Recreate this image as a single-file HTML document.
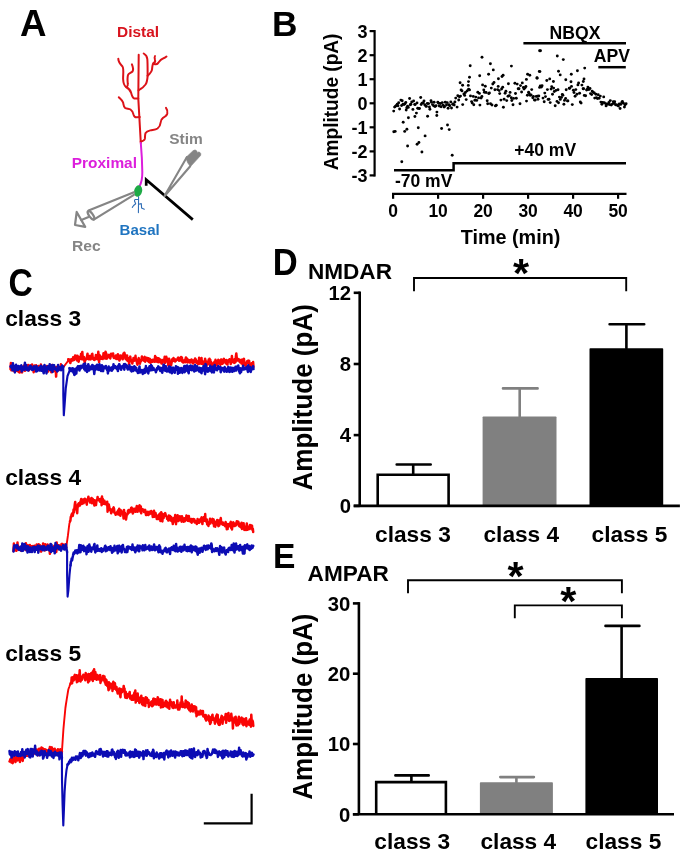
<!DOCTYPE html>
<html><head><meta charset="utf-8"><title>Figure</title>
<style>
html,body{margin:0;padding:0;background:#fff;}
svg{display:block;will-change:transform;}
text{font-family:"Liberation Sans",sans-serif;font-weight:bold;}
</style></head><body>
<svg width="685" height="860" viewBox="0 0 685 860">
<rect width="685" height="860" fill="#fff"/>
<text transform="translate(20.0 35.8)" font-size="36.7" text-anchor="start" fill="#000" font-family="Liberation Sans, sans-serif" font-weight="bold">A</text>
<text transform="translate(117.0 36.9) scale(1.05 1)" font-size="14.7" text-anchor="start" fill="#d8141e" font-family="Liberation Sans, sans-serif" font-weight="bold">Distal</text>
<text transform="translate(71.8 168.0) scale(1.05 1)" font-size="14.7" text-anchor="start" fill="#dc1edc" font-family="Liberation Sans, sans-serif" font-weight="bold">Proximal</text>
<text transform="translate(169.2 144.0) scale(1.04 1)" font-size="14.9" text-anchor="start" fill="#858585" font-family="Liberation Sans, sans-serif" font-weight="bold">Stim</text>
<text transform="translate(72.0 250.7) scale(1.03 1)" font-size="15.2" text-anchor="start" fill="#858585" font-family="Liberation Sans, sans-serif" font-weight="bold">Rec</text>
<text transform="translate(119.6 235.0) scale(1.01 1)" font-size="14.9" text-anchor="start" fill="#1f74c0" font-family="Liberation Sans, sans-serif" font-weight="bold">Basal</text>
<g fill="none" stroke="#dc1218" stroke-width="2.0" stroke-linecap="round" stroke-linejoin="round"><path d="M138.7,54.8 L138.3,98.6 L140.8,143"/><path d="M118.3,58.8 C118.3,62 120,64 122.5,66.5 C124,68.5 123,75 123.1,79 C123.3,83 124,85.5 126,87 C129,88.5 130.5,90.5 131.2,93 C132,96 132.5,98 134.5,98.6 L138.3,98.6"/><path d="M131.9,64.4 C132.8,66.5 133.6,69.5 132.5,71.5 C131,73 128.6,73.2 128,75 C127.3,77.5 127.5,81 127.8,84 C128,85.5 127.5,86.5 126.5,87"/><path d="M143.7,53.5 C145.5,54.5 147,56 147.3,59 C147.7,63 147.6,70 147.6,76.3 C147.3,80 146.5,83 145.5,84.5 C144,86.5 142.5,88 140.5,89 L138.5,90.3"/><path d="M147.5,75.8 C149.5,74 151.8,72 152,69.5 C152.3,66.5 152.5,64 153.5,63 C155,62.5 155.3,61 155,60 C154.6,58.5 154.2,57 155,56 M153.5,63.5 C155.5,64.5 157.5,64.5 158.5,62.5 C159.5,61 161,59 163,58.5 C164.5,58 165.8,57.2 166.5,56.6"/><path d="M118.8,97.3 C120.5,99 122.5,100.5 123.1,102.6 C123.6,104.5 123.5,106.5 125,107.8 C126.5,108.8 129,108.6 130.5,109.5 C132.5,110.8 133.3,113 133.7,115 C134.2,117 135.5,117.5 137,117.3 L139.8,117.1"/><path d="M166,107.9 C167.2,109.5 167.6,112 167.3,113.5 C166.8,115.5 165,116.8 163,117.8 C161.2,119 160.6,121 160.5,123 C160.4,125 159.5,127 157.5,128.5 C155.5,129.8 152.5,129.8 150.3,130.4 C148,131 146.5,131.5 145.6,133 C144.8,134.5 145.2,137 144.8,139 C144.2,140.5 142.5,141.3 140.7,141.6"/></g>
<path d="M140.8,143 C141.6,152 142.2,162 142.3,172 C142.4,178 141.5,182.5 139.6,186" fill="none" stroke="#dc1edc" stroke-width="2.0" stroke-linecap="round"/>
<path d="M138.6,196.5 L138.4,212.6 M138.4,199.3 L135.2,199.5 Q134.2,200 134.6,201.3 L135.7,203.8 L133.6,205.5 L132.3,207.4 M138.7,204.3 L141.3,203.6 L141.6,208.1 L144.3,209.3" fill="none" stroke="#2f6db5" stroke-width="1.1" stroke-linecap="round" stroke-linejoin="round"/>
<ellipse cx="138.1" cy="191" rx="4.0" ry="5.8" transform="rotate(12 138.1 191)" fill="#1eaa46"/>
<path d="M146.2,185.8 L146.2,179.7 L192.8,219.6" fill="none" stroke="#000" stroke-width="2.7" stroke-linejoin="miter"/>
<g fill="none" stroke="#858585" stroke-width="2.1" stroke-linecap="round"><path d="M164.6,195.8 L186.8,157.2 M164.9,195.8 L190.2,166.3"/></g>
<path d="M185.9,157.6 L192.9,150.9 Q195.3,148.9 196.9,151.2 L197.3,152.9 Q198.4,151.6 199.9,152.4 Q201.4,153.6 200.5,155.6 L190.4,166.5 L187.6,162.6 Z" fill="#858585" stroke="#858585" stroke-width="0.8" stroke-linejoin="round"/>
<g fill="none" stroke="#858585" stroke-width="2.2" stroke-linecap="round" stroke-linejoin="round"><path d="M88.6,210.4 L133.9,192.3 M93.8,219.6 L133.9,194.9"/><ellipse cx="91" cy="215.2" rx="1.9" ry="5.0" transform="rotate(-36 91 215.2)"/><path d="M88.6,217.0 L81.3,220.0"/><path d="M76.7,212.0 L75.0,225.0 L85.2,226.9 Z"/></g>
<text transform="translate(272.1 35.5) scale(0.99 1)" font-size="35.6" text-anchor="start" fill="#000" font-family="Liberation Sans, sans-serif" font-weight="bold">B</text>
<g stroke="#000" stroke-width="2.2" fill="none">
<path d="M374.6,30.04999999999999 L374.6,176.54999999999998"/>
<path d="M369.6,175.4 L374.6,175.4"/>
<path d="M369.6,151.4 L374.6,151.4"/>
<path d="M369.6,127.3 L374.6,127.3"/>
<path d="M369.6,103.3 L374.6,103.3"/>
<path d="M369.6,79.2 L374.6,79.2"/>
<path d="M369.6,55.2 L374.6,55.2"/>
<path d="M369.6,31.1 L374.6,31.1"/>
<path d="M392.0,193.9 L626.5,193.9"/>
<path d="M393.1,193.9 L393.1,198.8"/>
<path d="M438.1,193.9 L438.1,198.8"/>
<path d="M483.1,193.9 L483.1,198.8"/>
<path d="M528.1,193.9 L528.1,198.8"/>
<path d="M573.1,193.9 L573.1,198.8"/>
<path d="M618.1,193.9 L618.1,198.8"/>
</g>
<text transform="translate(367.5 181.8) scale(0.95 1)" font-size="19.0" text-anchor="end" fill="#000" font-family="Liberation Sans, sans-serif" font-weight="bold">-3</text>
<text transform="translate(367.5 157.8) scale(0.95 1)" font-size="19.0" text-anchor="end" fill="#000" font-family="Liberation Sans, sans-serif" font-weight="bold">-2</text>
<text transform="translate(367.5 133.8) scale(0.95 1)" font-size="19.0" text-anchor="end" fill="#000" font-family="Liberation Sans, sans-serif" font-weight="bold">-1</text>
<text transform="translate(367.5 109.7) scale(0.95 1)" font-size="19.0" text-anchor="end" fill="#000" font-family="Liberation Sans, sans-serif" font-weight="bold">0</text>
<text transform="translate(367.5 85.7) scale(0.95 1)" font-size="19.0" text-anchor="end" fill="#000" font-family="Liberation Sans, sans-serif" font-weight="bold">1</text>
<text transform="translate(367.5 61.6) scale(0.95 1)" font-size="19.0" text-anchor="end" fill="#000" font-family="Liberation Sans, sans-serif" font-weight="bold">2</text>
<text transform="translate(367.5 37.5) scale(0.95 1)" font-size="19.0" text-anchor="end" fill="#000" font-family="Liberation Sans, sans-serif" font-weight="bold">3</text>
<text transform="translate(393.1 217.3) scale(0.95 1)" font-size="18.4" text-anchor="middle" fill="#000" font-family="Liberation Sans, sans-serif" font-weight="bold">0</text>
<text transform="translate(438.1 217.3) scale(0.95 1)" font-size="18.4" text-anchor="middle" fill="#000" font-family="Liberation Sans, sans-serif" font-weight="bold">10</text>
<text transform="translate(483.1 217.3) scale(0.95 1)" font-size="18.4" text-anchor="middle" fill="#000" font-family="Liberation Sans, sans-serif" font-weight="bold">20</text>
<text transform="translate(528.1 217.3) scale(0.95 1)" font-size="18.4" text-anchor="middle" fill="#000" font-family="Liberation Sans, sans-serif" font-weight="bold">30</text>
<text transform="translate(573.1 217.3) scale(0.95 1)" font-size="18.4" text-anchor="middle" fill="#000" font-family="Liberation Sans, sans-serif" font-weight="bold">40</text>
<text transform="translate(618.1 217.3) scale(0.95 1)" font-size="18.4" text-anchor="middle" fill="#000" font-family="Liberation Sans, sans-serif" font-weight="bold">50</text>
<text transform="translate(510.5 243.6)" font-size="19.8" text-anchor="middle" fill="#000" font-family="Liberation Sans, sans-serif" font-weight="bold">Time (min)</text>
<text transform="translate(338.0 101.9) scale(1.08 1) rotate(-90)" font-size="19.1" text-anchor="middle" fill="#000" font-family="Liberation Sans, sans-serif" font-weight="bold">Amplitude (pA)</text>
<g stroke="#000" stroke-width="2.5" fill="none">
<path d="M523.4,43.3 L626,43.3"/>
<path d="M598.3,67.2 L625.8,67.2"/>
<path d="M394,170.3 L453.6,170.3 L453.6,163.3 L626,163.3"/>
</g>
<text transform="translate(575 38.9)" font-size="17.6" text-anchor="middle" fill="#000" font-family="Liberation Sans, sans-serif" font-weight="bold">NBQX</text>
<text transform="translate(611.8 62.1)" font-size="17.6" text-anchor="middle" fill="#000" font-family="Liberation Sans, sans-serif" font-weight="bold">APV</text>
<text transform="translate(545.2 156)" font-size="17.5" text-anchor="middle" fill="#000" font-family="Liberation Sans, sans-serif" font-weight="bold">+40 mV</text>
<text transform="translate(423.6 187.3)" font-size="17.5" text-anchor="middle" fill="#000" font-family="Liberation Sans, sans-serif" font-weight="bold">-70 mV</text>
<g fill="#000">
<circle cx="393.7" cy="111.1" r="1.45"/>
<circle cx="394.6" cy="107.1" r="1.45"/>
<circle cx="395.5" cy="106.2" r="1.45"/>
<circle cx="396.4" cy="105.5" r="1.45"/>
<circle cx="397.3" cy="104.1" r="1.45"/>
<circle cx="398.0" cy="105.8" r="1.45"/>
<circle cx="398.7" cy="102.7" r="1.45"/>
<circle cx="399.6" cy="109.0" r="1.45"/>
<circle cx="400.9" cy="100.1" r="1.45"/>
<circle cx="401.6" cy="105.5" r="1.45"/>
<circle cx="402.2" cy="100.7" r="1.45"/>
<circle cx="403.0" cy="104.1" r="1.45"/>
<circle cx="404.0" cy="104.5" r="1.45"/>
<circle cx="405.0" cy="103.7" r="1.45"/>
<circle cx="405.8" cy="102.4" r="1.45"/>
<circle cx="406.8" cy="107.7" r="1.45"/>
<circle cx="407.6" cy="106.3" r="1.45"/>
<circle cx="408.3" cy="107.4" r="1.45"/>
<circle cx="409.6" cy="98.5" r="1.45"/>
<circle cx="410.3" cy="104.7" r="1.45"/>
<circle cx="410.9" cy="104.2" r="1.45"/>
<circle cx="411.7" cy="101.9" r="1.45"/>
<circle cx="412.9" cy="109.4" r="1.45"/>
<circle cx="413.6" cy="101.0" r="1.45"/>
<circle cx="414.7" cy="104.4" r="1.45"/>
<circle cx="415.2" cy="104.6" r="1.45"/>
<circle cx="416.4" cy="113.1" r="1.45"/>
<circle cx="417.0" cy="102.9" r="1.45"/>
<circle cx="417.7" cy="108.2" r="1.45"/>
<circle cx="418.7" cy="108.4" r="1.45"/>
<circle cx="419.5" cy="108.5" r="1.45"/>
<circle cx="420.7" cy="97.5" r="1.45"/>
<circle cx="421.2" cy="104.5" r="1.45"/>
<circle cx="422.0" cy="103.1" r="1.45"/>
<circle cx="423.3" cy="102.7" r="1.45"/>
<circle cx="424.0" cy="100.9" r="1.45"/>
<circle cx="424.7" cy="104.7" r="1.45"/>
<circle cx="425.8" cy="106.1" r="1.45"/>
<circle cx="426.4" cy="106.4" r="1.45"/>
<circle cx="427.3" cy="103.5" r="1.45"/>
<circle cx="428.6" cy="103.6" r="1.45"/>
<circle cx="429.4" cy="107.0" r="1.45"/>
<circle cx="429.9" cy="109.3" r="1.45"/>
<circle cx="431.0" cy="100.7" r="1.45"/>
<circle cx="431.5" cy="102.3" r="1.45"/>
<circle cx="432.5" cy="104.6" r="1.45"/>
<circle cx="433.6" cy="105.8" r="1.45"/>
<circle cx="434.1" cy="102.2" r="1.45"/>
<circle cx="435.0" cy="106.5" r="1.45"/>
<circle cx="436.1" cy="105.7" r="1.45"/>
<circle cx="436.9" cy="112.1" r="1.45"/>
<circle cx="437.8" cy="102.2" r="1.45"/>
<circle cx="438.7" cy="103.2" r="1.45"/>
<circle cx="439.3" cy="106.0" r="1.45"/>
<circle cx="440.6" cy="103.5" r="1.45"/>
<circle cx="441.1" cy="106.7" r="1.45"/>
<circle cx="442.3" cy="102.6" r="1.45"/>
<circle cx="443.2" cy="105.3" r="1.45"/>
<circle cx="444.1" cy="107.1" r="1.45"/>
<circle cx="444.5" cy="106.5" r="1.45"/>
<circle cx="445.3" cy="102.3" r="1.45"/>
<circle cx="446.5" cy="105.0" r="1.45"/>
<circle cx="447.2" cy="102.6" r="1.45"/>
<circle cx="448.1" cy="108.3" r="1.45"/>
<circle cx="448.9" cy="104.7" r="1.45"/>
<circle cx="449.7" cy="105.7" r="1.45"/>
<circle cx="450.8" cy="101.9" r="1.45"/>
<circle cx="451.5" cy="108.0" r="1.45"/>
<circle cx="452.7" cy="104.3" r="1.45"/>
<circle cx="453.2" cy="104.0" r="1.45"/>
<circle cx="454.2" cy="105.0" r="1.45"/>
<circle cx="454.9" cy="102.0" r="1.45"/>
<circle cx="455.7" cy="98.1" r="1.45"/>
<circle cx="457.1" cy="107.1" r="1.45"/>
<circle cx="457.8" cy="95.7" r="1.45"/>
<circle cx="458.7" cy="100.0" r="1.45"/>
<circle cx="459.4" cy="96.8" r="1.45"/>
<circle cx="460.5" cy="96.1" r="1.45"/>
<circle cx="461.1" cy="89.9" r="1.45"/>
<circle cx="462.0" cy="90.9" r="1.45"/>
<circle cx="462.7" cy="104.6" r="1.45"/>
<circle cx="463.9" cy="94.0" r="1.45"/>
<circle cx="464.7" cy="95.4" r="1.45"/>
<circle cx="465.4" cy="92.5" r="1.45"/>
<circle cx="466.2" cy="99.6" r="1.45"/>
<circle cx="467.1" cy="90.9" r="1.45"/>
<circle cx="468.3" cy="85.4" r="1.45"/>
<circle cx="468.6" cy="89.2" r="1.45"/>
<circle cx="469.5" cy="89.9" r="1.45"/>
<circle cx="470.5" cy="95.9" r="1.45"/>
<circle cx="471.6" cy="101.6" r="1.45"/>
<circle cx="472.2" cy="103.0" r="1.45"/>
<circle cx="473.3" cy="96.4" r="1.45"/>
<circle cx="473.8" cy="104.7" r="1.45"/>
<circle cx="474.9" cy="100.2" r="1.45"/>
<circle cx="475.8" cy="97.1" r="1.45"/>
<circle cx="476.7" cy="100.4" r="1.45"/>
<circle cx="477.8" cy="92.3" r="1.45"/>
<circle cx="478.6" cy="97.9" r="1.45"/>
<circle cx="479.4" cy="93.4" r="1.45"/>
<circle cx="479.9" cy="105.1" r="1.45"/>
<circle cx="481.1" cy="98.0" r="1.45"/>
<circle cx="481.9" cy="96.5" r="1.45"/>
<circle cx="482.6" cy="84.9" r="1.45"/>
<circle cx="483.8" cy="89.9" r="1.45"/>
<circle cx="484.4" cy="92.2" r="1.45"/>
<circle cx="485.3" cy="86.3" r="1.45"/>
<circle cx="486.1" cy="92.5" r="1.45"/>
<circle cx="487.2" cy="100.8" r="1.45"/>
<circle cx="487.7" cy="103.8" r="1.45"/>
<circle cx="488.7" cy="93.6" r="1.45"/>
<circle cx="489.4" cy="93.0" r="1.45"/>
<circle cx="490.5" cy="103.7" r="1.45"/>
<circle cx="491.3" cy="88.1" r="1.45"/>
<circle cx="492.0" cy="105.0" r="1.45"/>
<circle cx="492.8" cy="84.0" r="1.45"/>
<circle cx="494.0" cy="82.5" r="1.45"/>
<circle cx="494.9" cy="89.7" r="1.45"/>
<circle cx="495.4" cy="105.9" r="1.45"/>
<circle cx="496.3" cy="105.3" r="1.45"/>
<circle cx="497.6" cy="89.6" r="1.45"/>
<circle cx="498.2" cy="86.4" r="1.45"/>
<circle cx="499.2" cy="90.6" r="1.45"/>
<circle cx="499.7" cy="93.6" r="1.45"/>
<circle cx="500.9" cy="100.1" r="1.45"/>
<circle cx="501.6" cy="89.0" r="1.45"/>
<circle cx="502.7" cy="87.2" r="1.45"/>
<circle cx="503.4" cy="107.2" r="1.45"/>
<circle cx="504.1" cy="99.3" r="1.45"/>
<circle cx="505.1" cy="93.3" r="1.45"/>
<circle cx="505.9" cy="91.3" r="1.45"/>
<circle cx="506.7" cy="100.6" r="1.45"/>
<circle cx="508.0" cy="96.3" r="1.45"/>
<circle cx="508.4" cy="83.7" r="1.45"/>
<circle cx="509.3" cy="95.6" r="1.45"/>
<circle cx="510.1" cy="92.4" r="1.45"/>
<circle cx="511.3" cy="97.7" r="1.45"/>
<circle cx="511.8" cy="100.5" r="1.45"/>
<circle cx="513.0" cy="104.7" r="1.45"/>
<circle cx="513.6" cy="98.4" r="1.45"/>
<circle cx="514.9" cy="83.2" r="1.45"/>
<circle cx="515.5" cy="93.5" r="1.45"/>
<circle cx="516.3" cy="98.3" r="1.45"/>
<circle cx="517.2" cy="84.1" r="1.45"/>
<circle cx="518.2" cy="88.7" r="1.45"/>
<circle cx="519.0" cy="88.8" r="1.45"/>
<circle cx="520.0" cy="103.7" r="1.45"/>
<circle cx="520.5" cy="85.6" r="1.45"/>
<circle cx="521.6" cy="92.0" r="1.45"/>
<circle cx="522.3" cy="82.9" r="1.45"/>
<circle cx="523.4" cy="87.5" r="1.45"/>
<circle cx="524.0" cy="89.0" r="1.45"/>
<circle cx="525.1" cy="87.7" r="1.45"/>
<circle cx="525.9" cy="86.5" r="1.45"/>
<circle cx="526.5" cy="101.1" r="1.45"/>
<circle cx="527.4" cy="95.2" r="1.45"/>
<circle cx="528.6" cy="92.3" r="1.45"/>
<circle cx="529.2" cy="93.6" r="1.45"/>
<circle cx="530.1" cy="95.3" r="1.45"/>
<circle cx="531.1" cy="95.0" r="1.45"/>
<circle cx="531.7" cy="89.6" r="1.45"/>
<circle cx="532.8" cy="97.8" r="1.45"/>
<circle cx="533.4" cy="96.4" r="1.45"/>
<circle cx="534.4" cy="100.1" r="1.45"/>
<circle cx="535.3" cy="100.0" r="1.45"/>
<circle cx="536.2" cy="96.4" r="1.45"/>
<circle cx="537.3" cy="96.3" r="1.45"/>
<circle cx="538.0" cy="99.3" r="1.45"/>
<circle cx="538.8" cy="96.0" r="1.45"/>
<circle cx="539.6" cy="87.4" r="1.45"/>
<circle cx="540.3" cy="86.0" r="1.45"/>
<circle cx="541.4" cy="87.0" r="1.45"/>
<circle cx="542.1" cy="85.7" r="1.45"/>
<circle cx="543.0" cy="98.1" r="1.45"/>
<circle cx="544.2" cy="101.7" r="1.45"/>
<circle cx="544.8" cy="93.1" r="1.45"/>
<circle cx="545.5" cy="96.6" r="1.45"/>
<circle cx="546.8" cy="80.5" r="1.45"/>
<circle cx="547.4" cy="89.6" r="1.45"/>
<circle cx="548.1" cy="99.4" r="1.45"/>
<circle cx="549.0" cy="99.3" r="1.45"/>
<circle cx="550.2" cy="102.6" r="1.45"/>
<circle cx="551.1" cy="89.1" r="1.45"/>
<circle cx="551.7" cy="86.8" r="1.45"/>
<circle cx="552.5" cy="94.3" r="1.45"/>
<circle cx="553.6" cy="88.1" r="1.45"/>
<circle cx="554.3" cy="91.5" r="1.45"/>
<circle cx="555.2" cy="105.8" r="1.45"/>
<circle cx="556.0" cy="90.4" r="1.45"/>
<circle cx="557.0" cy="101.4" r="1.45"/>
<circle cx="558.0" cy="89.8" r="1.45"/>
<circle cx="558.5" cy="102.7" r="1.45"/>
<circle cx="559.4" cy="97.1" r="1.45"/>
<circle cx="560.3" cy="99.4" r="1.45"/>
<circle cx="561.5" cy="97.4" r="1.45"/>
<circle cx="562.3" cy="94.4" r="1.45"/>
<circle cx="562.9" cy="95.2" r="1.45"/>
<circle cx="563.9" cy="104.2" r="1.45"/>
<circle cx="564.5" cy="100.4" r="1.45"/>
<circle cx="565.6" cy="98.5" r="1.45"/>
<circle cx="566.2" cy="89.7" r="1.45"/>
<circle cx="567.5" cy="100.9" r="1.45"/>
<circle cx="567.9" cy="100.9" r="1.45"/>
<circle cx="569.3" cy="88.3" r="1.45"/>
<circle cx="569.7" cy="88.3" r="1.45"/>
<circle cx="571.0" cy="81.8" r="1.45"/>
<circle cx="571.5" cy="86.4" r="1.45"/>
<circle cx="572.3" cy="104.6" r="1.45"/>
<circle cx="573.4" cy="90.2" r="1.45"/>
<circle cx="574.0" cy="92.5" r="1.45"/>
<circle cx="575.1" cy="96.3" r="1.45"/>
<circle cx="575.8" cy="89.6" r="1.45"/>
<circle cx="576.9" cy="94.2" r="1.45"/>
<circle cx="577.9" cy="84.9" r="1.45"/>
<circle cx="578.6" cy="83.0" r="1.45"/>
<circle cx="579.6" cy="93.2" r="1.45"/>
<circle cx="580.3" cy="102.0" r="1.45"/>
<circle cx="581.1" cy="103.1" r="1.45"/>
<circle cx="581.9" cy="85.1" r="1.45"/>
<circle cx="583.1" cy="88.7" r="1.45"/>
<circle cx="583.6" cy="88.8" r="1.45"/>
<circle cx="584.3" cy="95.4" r="1.45"/>
<circle cx="585.6" cy="95.8" r="1.45"/>
<circle cx="586.6" cy="90.0" r="1.45"/>
<circle cx="587.4" cy="89.2" r="1.45"/>
<circle cx="587.9" cy="87.1" r="1.45"/>
<circle cx="588.9" cy="89.5" r="1.45"/>
<circle cx="590.0" cy="88.5" r="1.45"/>
<circle cx="590.5" cy="93.6" r="1.45"/>
<circle cx="591.7" cy="94.6" r="1.45"/>
<circle cx="592.1" cy="91.1" r="1.45"/>
<circle cx="593.1" cy="92.3" r="1.45"/>
<circle cx="594.3" cy="92.9" r="1.45"/>
<circle cx="594.7" cy="98.1" r="1.45"/>
<circle cx="595.9" cy="94.2" r="1.45"/>
<circle cx="596.4" cy="97.6" r="1.45"/>
<circle cx="597.4" cy="98.6" r="1.45"/>
<circle cx="598.2" cy="94.7" r="1.45"/>
<circle cx="599.1" cy="98.2" r="1.45"/>
<circle cx="600.3" cy="96.1" r="1.45"/>
<circle cx="600.9" cy="102.1" r="1.45"/>
<circle cx="601.9" cy="104.2" r="1.45"/>
<circle cx="602.6" cy="102.4" r="1.45"/>
<circle cx="603.7" cy="96.9" r="1.45"/>
<circle cx="604.3" cy="102.7" r="1.45"/>
<circle cx="605.6" cy="103.6" r="1.45"/>
<circle cx="606.1" cy="105.9" r="1.45"/>
<circle cx="606.8" cy="104.2" r="1.45"/>
<circle cx="607.9" cy="104.1" r="1.45"/>
<circle cx="608.9" cy="102.4" r="1.45"/>
<circle cx="609.4" cy="104.5" r="1.45"/>
<circle cx="610.3" cy="100.6" r="1.45"/>
<circle cx="611.2" cy="105.0" r="1.45"/>
<circle cx="612.4" cy="104.1" r="1.45"/>
<circle cx="613.3" cy="101.7" r="1.45"/>
<circle cx="614.1" cy="103.3" r="1.45"/>
<circle cx="614.7" cy="101.7" r="1.45"/>
<circle cx="615.5" cy="104.8" r="1.45"/>
<circle cx="616.5" cy="104.9" r="1.45"/>
<circle cx="617.5" cy="105.2" r="1.45"/>
<circle cx="618.4" cy="106.1" r="1.45"/>
<circle cx="619.3" cy="104.0" r="1.45"/>
<circle cx="620.1" cy="108.5" r="1.45"/>
<circle cx="620.7" cy="104.4" r="1.45"/>
<circle cx="621.8" cy="102.4" r="1.45"/>
<circle cx="622.4" cy="101.5" r="1.45"/>
<circle cx="623.4" cy="103.3" r="1.45"/>
<circle cx="624.4" cy="107.1" r="1.45"/>
<circle cx="625.0" cy="105.1" r="1.45"/>
<circle cx="626.1" cy="103.7" r="1.45"/>
<circle cx="393.8" cy="131.8" r="1.45"/>
<circle cx="395.2" cy="131.4" r="1.45"/>
<circle cx="403.2" cy="122.3" r="1.45"/>
<circle cx="404.7" cy="131.4" r="1.45"/>
<circle cx="406.9" cy="129.3" r="1.45"/>
<circle cx="408.4" cy="117.7" r="1.45"/>
<circle cx="407.6" cy="146.0" r="1.45"/>
<circle cx="401.8" cy="161.8" r="1.45"/>
<circle cx="414.9" cy="116.5" r="1.45"/>
<circle cx="418.3" cy="127.7" r="1.45"/>
<circle cx="417.1" cy="144.2" r="1.45"/>
<circle cx="418.9" cy="142.5" r="1.45"/>
<circle cx="421.9" cy="152.0" r="1.45"/>
<circle cx="425.1" cy="135.9" r="1.45"/>
<circle cx="427.6" cy="116.2" r="1.45"/>
<circle cx="436.8" cy="115.5" r="1.45"/>
<circle cx="441.6" cy="128.5" r="1.45"/>
<circle cx="447.5" cy="125.0" r="1.45"/>
<circle cx="449.2" cy="129.6" r="1.45"/>
<circle cx="452.2" cy="155.2" r="1.45"/>
<circle cx="406.2" cy="110.0" r="1.45"/>
<circle cx="482.0" cy="57.2" r="1.45"/>
<circle cx="470.2" cy="65.8" r="1.45"/>
<circle cx="490.4" cy="63.8" r="1.45"/>
<circle cx="493.3" cy="69.9" r="1.45"/>
<circle cx="511.4" cy="66.1" r="1.45"/>
<circle cx="479.7" cy="75.8" r="1.45"/>
<circle cx="488.6" cy="74.3" r="1.45"/>
<circle cx="469.5" cy="77.2" r="1.45"/>
<circle cx="468.5" cy="81.6" r="1.45"/>
<circle cx="503.1" cy="75.3" r="1.45"/>
<circle cx="502.0" cy="76.5" r="1.45"/>
<circle cx="498.4" cy="78.7" r="1.45"/>
<circle cx="527.6" cy="74.3" r="1.45"/>
<circle cx="529.8" cy="75.3" r="1.45"/>
<circle cx="526.4" cy="79.4" r="1.45"/>
<circle cx="537.1" cy="78.2" r="1.45"/>
<circle cx="539.3" cy="71.4" r="1.45"/>
<circle cx="539.6" cy="50.7" r="1.45"/>
<circle cx="540.5" cy="50.8" r="1.45"/>
<circle cx="557.3" cy="56.0" r="1.45"/>
<circle cx="563.3" cy="59.6" r="1.45"/>
<circle cx="584.7" cy="68.1" r="1.45"/>
<circle cx="577.4" cy="70.8" r="1.45"/>
<circle cx="539.9" cy="71.6" r="1.45"/>
<circle cx="558.5" cy="71.3" r="1.45"/>
<circle cx="560.2" cy="74.9" r="1.45"/>
<circle cx="571.3" cy="74.2" r="1.45"/>
<circle cx="565.8" cy="79.7" r="1.45"/>
<circle cx="584.0" cy="78.9" r="1.45"/>
<circle cx="583.3" cy="81.5" r="1.45"/>
<circle cx="549.7" cy="78.9" r="1.45"/>
<circle cx="537.0" cy="77.8" r="1.45"/>
<circle cx="553.4" cy="81.5" r="1.45"/>
<circle cx="460.1" cy="82.8" r="1.45"/>
<circle cx="462.6" cy="85.3" r="1.45"/>
</g>
<text transform="translate(8.6 295.6) scale(0.88 1)" font-size="38.3" font-family="Liberation Sans, sans-serif" font-weight="bold">C</text>
<text transform="translate(5.2 325.6) scale(1.04 1)" font-size="21.9" font-family="Liberation Sans, sans-serif" font-weight="bold">class 3</text>
<text transform="translate(5.2 485.3) scale(1.04 1)" font-size="21.9" font-family="Liberation Sans, sans-serif" font-weight="bold">class 4</text>
<text transform="translate(5.2 661.0) scale(1.04 1)" font-size="21.9" font-family="Liberation Sans, sans-serif" font-weight="bold">class 5</text>
<polyline points="10.5,369.2 10.9,363.1 11.3,370.3 11.7,367.2 12.1,365.3 12.5,367.6 12.9,367.6 13.3,366.5 13.7,371.1 14.1,368.8 14.5,367.4 14.9,368.9 15.3,367.9 15.7,367.6 16.1,368.7 16.5,370.8 16.9,368.3 17.3,367.4 17.7,368.8 18.1,368.7 18.5,371.9 18.9,370.5 19.3,370.8 19.7,372.6 20.1,369.5 20.5,369.9 20.9,371.7 21.3,370.6 21.7,366.6 22.1,372.4 22.5,368.1 22.9,369.3 23.3,368.5 23.7,368.2 24.1,365.4 24.5,368.3 24.9,370.8 25.3,368.0 25.7,366.5 26.1,369.3 26.5,368.1 26.9,369.0 27.3,366.5 27.7,369.5 28.1,365.1 28.5,369.1 28.9,370.4 29.3,365.7 29.7,369.1 30.1,365.5 30.5,367.3 30.9,365.5 31.3,366.7 31.7,367.9 32.1,364.6 32.5,365.5 32.9,367.6 33.3,370.0 33.7,372.2 34.1,367.5 34.5,370.1 34.9,365.4 35.3,368.6 35.7,366.0 36.1,365.4 36.5,367.2 36.9,367.2 37.3,367.2 37.7,368.3 38.1,368.7 38.5,366.1 38.9,366.4 39.3,370.0 39.7,370.0 40.1,368.5 40.5,368.3 40.9,364.5 41.3,366.3 41.7,367.6 42.1,367.1 42.5,368.2 42.9,369.0 43.3,368.7 43.7,366.4 44.1,369.0 44.5,368.7 44.9,368.7 45.3,369.2 45.7,371.1 46.1,370.9 46.5,367.8 46.9,365.9 47.3,369.0 47.7,369.0 48.1,371.6 48.5,368.5 48.9,369.2 49.3,367.4 49.7,367.9 50.1,369.4 50.5,370.2 50.9,370.0 51.3,372.3 51.7,370.2 52.1,365.0 52.5,370.2 52.9,368.1 53.3,371.1 53.7,368.7 54.1,369.4 54.5,367.6 54.9,371.1 55.3,369.5 55.7,367.2 56.1,376.6 56.5,369.2 56.9,367.0 57.3,367.8 57.7,369.9 58.1,369.5 58.5,370.1 58.9,369.2 59.3,369.0 59.7,368.8 60.1,369.5 60.5,368.8 60.9,364.3 61.3,367.4 61.7,368.2 62.1,368.8 62.5,368.8" fill="none" stroke="#fa0505" stroke-width="2.5" stroke-linejoin="round" stroke-linecap="round"/>
<polyline points="62.5,368.8 62.6,368.2 63.1,367.5 63.6,366.9 64.1,366.2 64.6,365.5 65.1,364.9 65.6,364.2 66.1,363.5 66.6,362.9 67.1,362.2 67.6,361.5 68.1,360.9 68.3,359.3" fill="none" stroke="#fa0505" stroke-width="1.9" stroke-linejoin="round" stroke-linecap="round"/>
<polyline points="68.3,359.3 68.7,361.0 69.1,360.1 69.5,359.6 69.9,361.3 70.3,363.1 70.7,361.4 71.1,361.3 71.5,359.2 71.9,359.0 72.3,360.5 72.7,360.5 73.1,357.3 73.5,358.4 73.9,358.4 74.3,359.9 74.7,357.7 75.1,355.5 75.5,357.0 75.9,355.7 76.3,356.8 76.7,358.6 77.1,360.4 77.5,355.8 77.9,356.8 78.3,360.6 78.7,361.7 79.1,358.7 79.5,359.4 79.9,356.7 80.3,358.4 80.7,358.6 81.1,353.7 81.5,357.8 81.9,359.1 82.3,351.9 82.7,357.0 83.1,359.4 83.5,357.0 83.9,356.9 84.3,359.6 84.7,362.8 85.1,360.1 85.5,359.1 85.9,359.5 86.3,359.2 86.7,358.5 87.1,355.7 87.5,353.7 87.9,358.7 88.3,359.0 88.7,359.3 89.1,358.9 89.5,355.9 89.9,359.2 90.3,358.9 90.7,359.3 91.1,358.3 91.5,356.1 91.9,354.3 92.3,353.8 92.7,357.2 93.1,359.0 93.5,358.2 93.9,359.6 94.3,359.2 94.7,359.9 95.1,357.7 95.5,359.1 95.9,354.9 96.3,356.7 96.7,356.7 97.1,355.7 97.5,359.3 97.9,357.9 98.3,351.8 98.7,356.2 99.1,362.1 99.5,357.9 99.9,355.5 100.3,358.2 100.7,356.5 101.1,357.5 101.5,358.8 101.9,357.4 102.3,358.1 102.7,359.0 103.1,357.9 103.5,353.3 103.9,356.1 104.3,356.1 104.7,356.5 105.1,358.6 105.5,351.7 105.9,353.1 106.3,353.4 106.7,358.7 107.1,356.2 107.5,357.7 107.9,355.8 108.3,355.4 108.7,356.2 109.1,354.9 109.5,355.5 109.9,357.8 110.3,358.4 110.7,356.2 111.1,353.7 111.5,354.3 111.9,355.0 112.3,353.8 112.7,355.6 113.1,353.5 113.5,357.2 113.9,358.0 114.3,357.1 114.7,358.0 115.1,356.7 115.5,357.6 115.9,355.5 116.3,359.0 116.7,356.0 117.1,357.7 117.5,355.6 117.9,354.2 118.3,359.3 118.7,358.5 119.1,359.4 119.5,360.5 119.9,359.1 120.3,355.4 120.7,357.6 121.1,357.7 121.5,355.7 121.9,357.8 122.3,358.6 122.7,359.3 123.1,357.0 123.5,353.4 123.9,355.0 124.3,352.7 124.7,354.1 125.1,354.9 125.5,359.0 125.9,358.2 126.3,359.4 126.7,359.7 127.1,355.5 127.5,360.8 127.9,359.9 128.3,359.5 128.7,358.4 129.1,364.5 129.5,360.3 129.9,358.5 130.3,356.6 130.7,360.7 131.1,359.7 131.5,360.6 131.9,361.5 132.3,363.6 132.7,360.5 133.1,361.4 133.5,357.9 133.9,359.7 134.3,360.3 134.7,360.6 135.1,360.3 135.5,355.8 135.9,360.4 136.3,360.7 136.7,360.6 137.1,363.8 137.5,364.6 137.9,361.7 138.3,359.1 138.7,358.1 139.1,360.5 139.5,360.0 139.9,363.7 140.3,361.3 140.7,361.7 141.1,360.3 141.5,359.2 141.9,356.4 142.3,358.8 142.7,357.5 143.1,360.2 143.5,360.4 143.9,360.6 144.3,357.8 144.7,356.9 145.1,361.7 145.5,359.3 145.9,359.9 146.3,360.3 146.7,357.7 147.1,359.9 147.5,358.9 147.9,361.0 148.3,358.2 148.7,361.9 149.1,360.0 149.5,359.8 149.9,358.8 150.3,362.8 150.7,360.8 151.1,362.4 151.5,361.0 151.9,360.1 152.3,359.9 152.7,361.7 153.1,360.9 153.5,360.3 153.9,361.0 154.3,359.3 154.7,361.8 155.1,356.0 155.5,361.0 155.9,361.5 156.3,357.5 156.7,359.2 157.1,361.7 157.5,358.2 157.9,359.6 158.3,362.2 158.7,358.3 159.1,359.5 159.5,360.3 159.9,362.1 160.3,359.4 160.7,361.0 161.1,360.5 161.5,363.6 161.9,362.5 162.3,363.4 162.7,360.0 163.1,361.8 163.5,361.2 163.9,360.3 164.3,359.8 164.7,356.7 165.1,362.8 165.5,362.1 165.9,361.2 166.3,356.8 166.7,360.1 167.1,361.0 167.5,358.8 167.9,360.6 168.3,365.4 168.7,363.3 169.1,358.8 169.5,364.0 169.9,364.0 170.3,365.1 170.7,365.1 171.1,365.3 171.5,363.1 171.9,359.6 172.3,361.4 172.7,361.0 173.1,360.4 173.5,357.9 173.9,359.9 174.3,360.6 174.7,359.5 175.1,361.5 175.5,359.5 175.9,360.7 176.3,359.7 176.7,359.5 177.1,359.3 177.5,359.1 177.9,357.8 178.3,359.9 178.7,357.8 179.1,360.8 179.5,358.9 179.9,360.2 180.3,360.5 180.7,359.7 181.1,357.1 181.5,357.4 181.9,357.4 182.3,362.0 182.7,361.6 183.1,362.5 183.5,361.6 183.9,360.6 184.3,360.7 184.7,359.9 185.1,362.2 185.5,359.9 185.9,357.4 186.3,361.7 186.7,358.2 187.1,359.9 187.5,362.5 187.9,361.6 188.3,359.7 188.7,361.1 189.1,362.2 189.5,362.4 189.9,360.3 190.3,362.5 190.7,361.8 191.1,362.2 191.5,359.5 191.9,360.7 192.3,362.6 192.7,360.6 193.1,363.5 193.5,361.8 193.9,360.2 194.3,362.3 194.7,360.6 195.1,358.6 195.5,360.3 195.9,359.3 196.3,362.7 196.7,361.4 197.1,362.7 197.5,363.6 197.9,362.0 198.3,361.1 198.7,364.1 199.1,357.8 199.5,362.6 199.9,363.1 200.3,363.5 200.7,359.0 201.1,360.5 201.5,357.9 201.9,363.8 202.3,362.4 202.7,361.3 203.1,363.1 203.5,363.8 203.9,364.6 204.3,364.0 204.7,364.5 205.1,358.7 205.5,360.6 205.9,365.1 206.3,366.5 206.7,364.1 207.1,361.8 207.5,361.6 207.9,363.4 208.3,364.2 208.7,359.5 209.1,362.3 209.5,358.7 209.9,361.1 210.3,359.8 210.7,366.0 211.1,362.1 211.5,363.4 211.9,363.9 212.3,364.0 212.7,363.7 213.1,364.7 213.5,368.0 213.9,362.4 214.3,365.1 214.7,361.5 215.1,366.2 215.5,359.8 215.9,361.3 216.3,363.9 216.7,363.9 217.1,365.2 217.5,365.2 217.9,361.7 218.3,359.8 218.7,360.2 219.1,360.6 219.5,361.9 219.9,360.7 220.3,364.7 220.7,364.1 221.1,359.4 221.5,359.6 221.9,362.0 222.3,363.8 222.7,363.5 223.1,360.1 223.5,359.7 223.9,358.9 224.3,360.8 224.7,361.6 225.1,361.5 225.5,363.0 225.9,363.4 226.3,360.0 226.7,362.1 227.1,364.2 227.5,364.5 227.9,360.4 228.3,361.7 228.7,360.8 229.1,361.0 229.5,359.2 229.9,359.5 230.3,361.2 230.7,364.1 231.1,361.3 231.5,361.0 231.9,356.1 232.3,361.8 232.7,360.2 233.1,362.3 233.5,361.2 233.9,361.6 234.3,362.9 234.7,359.0 235.1,362.4 235.5,362.2 235.9,356.4 236.3,353.5 236.7,357.3 237.1,360.5 237.5,360.6 237.9,359.2 238.3,360.4 238.7,359.1 239.1,360.6 239.5,361.3 239.9,362.3 240.3,362.0 240.7,360.0 241.1,360.9 241.5,363.6 241.9,359.8 242.3,363.0 242.7,361.2 243.1,365.9 243.5,359.0 243.9,358.7 244.3,362.5 244.7,363.2 245.1,364.4 245.5,365.1 245.9,365.8 246.3,363.9 246.7,362.9 247.1,361.2 247.5,362.7 247.9,361.9 248.3,360.6 248.7,361.0 249.1,360.7 249.5,364.7 249.9,365.3 250.3,365.9 250.7,363.7 251.1,363.5 251.5,364.4 251.9,367.0 252.3,363.0 252.7,365.2 253.1,362.1 253.5,366.9" fill="none" stroke="#fa0505" stroke-width="2.5" stroke-linejoin="round" stroke-linecap="round"/>
<polyline points="10.5,366.6 10.9,365.9 11.3,367.0 11.7,368.0 12.1,367.6 12.5,370.2 12.9,363.2 13.3,369.6 13.7,365.5 14.1,367.9 14.5,369.1 14.9,372.4 15.3,369.3 15.7,366.5 16.1,364.8 16.5,368.7 16.9,370.0 17.3,366.3 17.7,366.5 18.1,370.0 18.5,366.1 18.9,368.7 19.3,368.8 19.7,368.3 20.1,368.8 20.5,366.2 20.9,366.0 21.3,365.3 21.7,371.4 22.1,369.4 22.5,370.4 22.9,367.7 23.3,367.9 23.7,366.9 24.1,368.0 24.5,369.8 24.9,362.8 25.3,365.2 25.7,364.8 26.1,365.0 26.5,367.3 26.9,370.0 27.3,369.2 27.7,368.8 28.1,370.5 28.5,367.8 28.9,368.0 29.3,369.5 29.7,366.1 30.1,368.1 30.5,365.8 30.9,366.4 31.3,368.4 31.7,368.6 32.1,369.9 32.5,368.2 32.9,369.8 33.3,367.6 33.7,366.5 34.1,368.5 34.5,366.6 34.9,368.8 35.3,367.9 35.7,368.0 36.1,371.6 36.5,365.9 36.9,371.2 37.3,369.8 37.7,370.4 38.1,368.4 38.5,367.8 38.9,368.2 39.3,368.5 39.7,370.6 40.1,367.1 40.5,368.7 40.9,365.7 41.3,370.7 41.7,368.2 42.1,370.6 42.5,368.9 42.9,366.8 43.3,371.7 43.7,373.3 44.1,369.1 44.5,365.1 44.9,370.6 45.3,366.3 45.7,367.4 46.1,367.9 46.5,373.4 46.9,370.9 47.3,369.7 47.7,367.5 48.1,366.2 48.5,368.8 48.9,368.7 49.3,368.3 49.7,364.2 50.1,370.0 50.5,366.5 50.9,367.7 51.3,365.4 51.7,367.2 52.1,369.7 52.5,372.1 52.9,365.1 53.3,367.1 53.7,366.5 54.1,365.2 54.5,367.4 54.9,369.1 55.3,369.2 55.7,368.6 56.1,369.8 56.5,369.5 56.9,368.5 57.3,371.5 57.7,367.2 58.1,365.0 58.5,370.2 58.9,369.2 59.3,367.7 59.7,367.0 60.1,367.8 60.5,367.6 60.9,369.1 61.3,370.2 61.7,369.4 62.1,365.5 62.5,369.6 62.9,367.3 63.3,366.5" fill="none" stroke="#0c0cb4" stroke-width="2.5" stroke-linejoin="round" stroke-linecap="round"/>
<polyline points="63.3,366.5 63.3,395.0 63.8,415.3 64.6,405.0 65.8,388.0 67.5,376.0 69.5,371.0 69.5,368.1" fill="none" stroke="#0c0cb4" stroke-width="2.1" stroke-linejoin="round" stroke-linecap="round"/>
<polyline points="69.5,368.1 69.9,368.5 70.3,368.4 70.7,370.9 71.1,368.9 71.5,369.6 71.9,370.7 72.3,368.3 72.7,371.5 73.1,368.4 73.5,372.8 73.9,371.7 74.3,374.9 74.7,369.4 75.1,374.5 75.5,368.8 75.9,369.0 76.3,373.6 76.7,369.8 77.1,367.5 77.5,369.3 77.9,366.3 78.3,366.4 78.7,368.8 79.1,366.3 79.5,370.6 79.9,366.3 80.3,367.8 80.7,368.7 81.1,365.8 81.5,367.0 81.9,366.9 82.3,366.3 82.7,367.4 83.1,366.4 83.5,364.3 83.9,364.3 84.3,369.5 84.7,366.9 85.1,363.6 85.5,370.6 85.9,369.1 86.3,367.9 86.7,368.8 87.1,372.0 87.5,366.0 87.9,368.8 88.3,364.2 88.7,366.3 89.1,370.6 89.5,366.8 89.9,367.3 90.3,366.6 90.7,369.3 91.1,367.6 91.5,367.4 91.9,369.1 92.3,364.9 92.7,369.1 93.1,365.5 93.5,368.8 93.9,370.1 94.3,374.0 94.7,369.4 95.1,370.2 95.5,366.1 95.9,368.0 96.3,365.6 96.7,367.9 97.1,364.8 97.5,369.6 97.9,368.2 98.3,366.3 98.7,366.4 99.1,370.0 99.5,364.2 99.9,367.6 100.3,367.8 100.7,368.0 101.1,371.0 101.5,367.4 101.9,365.3 102.3,368.0 102.7,370.0 103.1,371.1 103.5,366.8 103.9,366.5 104.3,367.9 104.7,368.2 105.1,367.5 105.5,368.1 105.9,366.1 106.3,368.6 106.7,367.9 107.1,369.9 107.5,369.5 107.9,373.4 108.3,370.2 108.7,366.6 109.1,369.9 109.5,368.5 109.9,370.4 110.3,370.1 110.7,368.0 111.1,367.6 111.5,368.4 111.9,370.7 112.3,367.4 112.7,366.7 113.1,369.2 113.5,364.3 113.9,368.1 114.3,365.8 114.7,367.0 115.1,367.1 115.5,366.3 115.9,367.9 116.3,367.7 116.7,368.9 117.1,367.3 117.5,367.8 117.9,371.1 118.3,365.7 118.7,368.7 119.1,364.2 119.5,364.4 119.9,367.5 120.3,366.3 120.7,367.5 121.1,369.8 121.5,368.5 121.9,366.6 122.3,366.9 122.7,366.0 123.1,367.6 123.5,365.8 123.9,364.3 124.3,369.7 124.7,366.4 125.1,364.1 125.5,364.5 125.9,366.6 126.3,365.4 126.7,365.2 127.1,367.6 127.5,368.9 127.9,369.5 128.3,367.2 128.7,369.1 129.1,368.3 129.5,365.3 129.9,368.3 130.3,368.6 130.7,370.4 131.1,369.1 131.5,371.4 131.9,367.1 132.3,368.5 132.7,369.1 133.1,371.0 133.5,370.4 133.9,369.2 134.3,366.2 134.7,369.9 135.1,370.1 135.5,367.2 135.9,368.0 136.3,367.9 136.7,371.2 137.1,370.1 137.5,371.2 137.9,373.1 138.3,370.7 138.7,371.2 139.1,369.5 139.5,366.4 139.9,372.4 140.3,372.4 140.7,370.2 141.1,371.2 141.5,371.9 141.9,370.0 142.3,371.0 142.7,373.9 143.1,372.1 143.5,370.2 143.9,370.7 144.3,373.1 144.7,368.8 145.1,370.0 145.5,372.4 145.9,366.0 146.3,371.1 146.7,369.4 147.1,370.8 147.5,368.4 147.9,369.8 148.3,373.4 148.7,370.8 149.1,367.8 149.5,366.3 149.9,370.5 150.3,367.2 150.7,369.5 151.1,365.0 151.5,370.2 151.9,366.1 152.3,367.5 152.7,370.1 153.1,368.0 153.5,367.9 153.9,369.7 154.3,369.6 154.7,369.5 155.1,369.8 155.5,370.7 155.9,372.3 156.3,370.5 156.7,370.3 157.1,368.0 157.5,368.7 157.9,367.4 158.3,366.3 158.7,367.6 159.1,368.4 159.5,369.5 159.9,367.7 160.3,371.1 160.7,371.1 161.1,368.0 161.5,370.2 161.9,369.9 162.3,372.7 162.7,368.0 163.1,370.0 163.5,364.8 163.9,364.8 164.3,369.8 164.7,370.5 165.1,370.7 165.5,367.1 165.9,366.1 166.3,370.8 166.7,371.5 167.1,370.4 167.5,370.9 167.9,371.3 168.3,368.3 168.7,370.1 169.1,366.5 169.5,369.8 169.9,372.3 170.3,367.0 170.7,367.4 171.1,367.9 171.5,368.2 171.9,373.3 172.3,371.7 172.7,368.7 173.1,367.6 173.5,369.4 173.9,369.9 174.3,370.8 174.7,372.8 175.1,368.2 175.5,370.0 175.9,366.2 176.3,369.1 176.7,367.4 177.1,368.0 177.5,367.1 177.9,373.8 178.3,369.1 178.7,367.6 179.1,372.7 179.5,369.4 179.9,372.7 180.3,368.8 180.7,370.4 181.1,368.1 181.5,369.6 181.9,370.7 182.3,372.9 182.7,371.6 183.1,369.6 183.5,367.7 183.9,368.9 184.3,366.1 184.7,372.2 185.1,369.0 185.5,371.2 185.9,366.0 186.3,367.1 186.7,366.8 187.1,365.5 187.5,368.5 187.9,371.2 188.3,372.0 188.7,373.2 189.1,366.6 189.5,370.0 189.9,367.0 190.3,365.9 190.7,365.5 191.1,366.8 191.5,370.1 191.9,370.2 192.3,368.0 192.7,366.3 193.1,369.3 193.5,368.2 193.9,369.0 194.3,371.5 194.7,371.0 195.1,365.0 195.5,370.7 195.9,367.8 196.3,370.4 196.7,368.7 197.1,366.2 197.5,368.6 197.9,368.4 198.3,369.4 198.7,370.6 199.1,371.5 199.5,367.7 199.9,370.5 200.3,368.7 200.7,372.3 201.1,368.2 201.5,373.2 201.9,370.5 202.3,371.1 202.7,369.5 203.1,369.5 203.5,366.1 203.9,368.7 204.3,368.8 204.7,369.6 205.1,374.2 205.5,364.0 205.9,364.8 206.3,370.3 206.7,367.7 207.1,370.5 207.5,371.6 207.9,371.4 208.3,371.5 208.7,368.3 209.1,368.5 209.5,368.7 209.9,370.4 210.3,365.8 210.7,367.7 211.1,371.3 211.5,367.3 211.9,372.4 212.3,370.1 212.7,367.7 213.1,366.6 213.5,369.9 213.9,372.4 214.3,368.5 214.7,365.1 215.1,368.6 215.5,369.2 215.9,368.1 216.3,369.7 216.7,368.2 217.1,370.2 217.5,367.7 217.9,366.7 218.3,366.0 218.7,368.3 219.1,368.8 219.5,367.6 219.9,367.6 220.3,367.2 220.7,372.2 221.1,369.9 221.5,367.7 221.9,369.3 222.3,368.6 222.7,369.6 223.1,368.3 223.5,370.1 223.9,371.3 224.3,371.7 224.7,367.1 225.1,368.1 225.5,368.8 225.9,368.7 226.3,369.0 226.7,371.8 227.1,369.9 227.5,370.7 227.9,368.3 228.3,366.9 228.7,371.4 229.1,367.5 229.5,371.9 229.9,370.6 230.3,367.6 230.7,369.5 231.1,371.6 231.5,369.2 231.9,367.7 232.3,371.7 232.7,371.4 233.1,368.4 233.5,368.0 233.9,369.8 234.3,371.0 234.7,369.3 235.1,369.1 235.5,366.7 235.9,370.6 236.3,368.9 236.7,369.1 237.1,366.4 237.5,368.0 237.9,369.3 238.3,365.6 238.7,369.1 239.1,371.6 239.5,369.4 239.9,373.3 240.3,368.2 240.7,371.7 241.1,372.0 241.5,369.3 241.9,368.7 242.3,368.1 242.7,369.5 243.1,365.8 243.5,367.9 243.9,369.6 244.3,368.4 244.7,368.1 245.1,368.7 245.5,369.0 245.9,369.1 246.3,368.2 246.7,367.0 247.1,367.1 247.5,369.5 247.9,371.9 248.3,365.3 248.7,371.2 249.1,367.0 249.5,370.3 249.9,368.7 250.3,366.9 250.7,372.0 251.1,370.5 251.5,368.4 251.9,369.3 252.3,368.2 252.7,368.1 253.1,366.3 253.5,369.1" fill="none" stroke="#0c0cb4" stroke-width="2.5" stroke-linejoin="round" stroke-linecap="round"/>
<polyline points="13.5,551.0 13.9,543.6 14.3,546.4 14.7,545.7 15.1,548.5 15.5,549.1 15.9,550.1 16.3,550.8 16.7,550.1 17.1,548.6 17.5,542.5 17.9,549.3 18.3,546.7 18.7,549.3 19.1,548.7 19.5,547.1 19.9,547.5 20.3,549.4 20.7,549.7 21.1,550.7 21.5,550.1 21.9,546.7 22.3,549.0 22.7,547.4 23.1,545.9 23.5,547.7 23.9,547.5 24.3,546.3 24.7,547.5 25.1,545.8 25.5,549.9 25.9,543.2 26.3,548.2 26.7,547.6 27.1,548.5 27.5,549.9 27.9,545.3 28.3,546.6 28.7,550.8 29.1,545.7 29.5,550.6 29.9,545.1 30.3,547.5 30.7,546.0 31.1,549.2 31.5,547.6 31.9,546.4 32.3,546.1 32.7,546.5 33.1,547.0 33.5,547.1 33.9,547.0 34.3,545.8 34.7,546.8 35.1,547.0 35.5,546.8 35.9,545.8 36.3,547.4 36.7,544.4 37.1,545.9 37.5,546.1 37.9,545.8 38.3,547.8 38.7,544.3 39.1,546.7 39.5,546.9 39.9,545.2 40.3,549.0 40.7,551.3 41.1,551.7 41.5,546.8 41.9,548.6 42.3,546.2 42.7,548.8 43.1,543.4 43.5,548.5 43.9,550.1 44.3,550.2 44.7,549.2 45.1,544.2 45.5,550.2 45.9,546.5 46.3,547.9 46.7,547.5 47.1,548.9 47.5,544.5 47.9,547.9 48.3,549.2 48.7,545.7 49.1,549.5 49.5,548.7 49.9,553.8 50.3,548.5 50.7,544.2 51.1,549.1 51.5,548.9 51.9,549.2 52.3,548.1 52.7,548.7 53.1,547.6 53.5,547.9 53.9,546.8 54.3,545.7 54.7,548.5 55.1,546.0 55.5,549.8 55.9,545.2 56.3,551.9 56.7,542.6 57.1,548.8 57.5,549.2 57.9,547.4 58.3,545.9 58.7,545.2 59.1,545.4 59.5,546.7 59.9,548.4 60.3,547.4 60.7,548.9 61.1,546.7 61.5,544.1 61.9,547.3 62.3,544.1 62.7,546.0 63.1,544.7 63.5,546.0 63.9,544.8 64.3,546.9 64.7,546.2 65.1,544.5 65.5,547.9 65.9,549.0 66.3,547.1" fill="none" stroke="#fa0505" stroke-width="2.5" stroke-linejoin="round" stroke-linecap="round"/>
<polyline points="66.3,547.1 66.4,546.0 66.9,542.6 67.4,539.1 67.9,535.7 68.4,531.6 68.9,527.4 69.4,523.6 69.9,521.9 70.0,521.3" fill="none" stroke="#fa0505" stroke-width="1.9" stroke-linejoin="round" stroke-linecap="round"/>
<polyline points="70.0,521.3 70.4,520.7 70.8,516.8 71.2,516.5 71.6,514.6 72.0,513.8 72.4,513.2 72.8,515.9 73.2,513.1 73.6,509.4 74.0,512.3 74.4,508.3 74.8,504.5 75.2,501.9 75.6,508.7 76.0,509.3 76.4,506.3 76.8,506.2 77.2,513.2 77.6,506.0 78.0,504.2 78.4,506.4 78.8,503.2 79.2,503.4 79.6,504.8 80.0,505.4 80.4,501.8 80.8,501.2 81.2,499.1 81.6,503.4 82.0,503.8 82.4,502.5 82.8,501.1 83.2,499.5 83.6,503.2 84.0,501.1 84.4,500.5 84.8,498.7 85.2,501.4 85.6,502.1 86.0,500.9 86.4,501.7 86.8,504.7 87.2,499.2 87.6,499.3 88.0,499.1 88.4,496.7 88.8,500.5 89.2,499.5 89.6,499.3 90.0,502.6 90.4,498.8 90.8,502.6 91.2,500.4 91.6,498.0 92.0,503.3 92.4,500.1 92.8,498.9 93.2,502.8 93.6,500.0 94.0,501.6 94.4,505.6 94.8,500.2 95.2,503.1 95.6,502.7 96.0,505.0 96.4,501.2 96.8,500.5 97.2,499.8 97.6,496.9 98.0,499.9 98.4,498.6 98.8,499.7 99.2,499.7 99.6,501.0 100.0,501.8 100.4,499.0 100.8,501.5 101.2,498.4 101.6,505.2 102.0,496.5 102.4,501.7 102.8,498.9 103.2,502.3 103.6,503.7 104.0,502.7 104.4,500.7 104.8,504.0 105.2,503.3 105.6,502.4 106.0,504.0 106.4,502.2 106.8,505.2 107.2,501.7 107.6,511.7 108.0,504.7 108.4,508.3 108.8,504.4 109.2,506.9 109.6,508.6 110.0,510.3 110.4,509.1 110.8,510.6 111.2,513.3 111.6,509.7 112.0,510.2 112.4,510.2 112.8,511.5 113.2,508.3 113.6,507.4 114.0,508.4 114.4,512.4 114.8,513.3 115.2,513.1 115.6,514.7 116.0,513.9 116.4,512.7 116.8,514.1 117.2,512.0 117.6,512.2 118.0,510.6 118.4,514.6 118.8,513.0 119.2,508.7 119.6,509.6 120.0,513.0 120.4,515.7 120.8,513.7 121.2,510.5 121.6,512.2 122.0,513.5 122.4,512.9 122.8,512.8 123.2,514.5 123.6,518.6 124.0,509.9 124.4,515.1 124.8,512.8 125.2,513.9 125.6,516.2 126.0,519.6 126.4,517.0 126.8,514.3 127.2,514.1 127.6,514.2 128.0,510.6 128.4,513.1 128.8,510.1 129.2,511.9 129.6,512.2 130.0,510.6 130.4,511.5 130.8,509.4 131.2,507.8 131.6,507.6 132.0,511.9 132.4,508.5 132.8,513.6 133.2,512.5 133.6,511.5 134.0,510.5 134.4,508.8 134.8,509.1 135.2,511.1 135.6,511.7 136.0,509.8 136.4,507.8 136.8,505.9 137.2,506.5 137.6,511.8 138.0,506.7 138.4,508.6 138.8,510.3 139.2,505.9 139.6,505.3 140.0,510.3 140.4,511.8 140.8,506.4 141.2,513.3 141.6,508.7 142.0,509.5 142.4,509.7 142.8,509.4 143.2,509.5 143.6,510.0 144.0,512.1 144.4,511.9 144.8,510.8 145.2,509.8 145.6,512.7 146.0,515.0 146.4,512.4 146.8,514.9 147.2,513.4 147.6,511.9 148.0,513.3 148.4,515.1 148.8,513.2 149.2,511.8 149.6,513.9 150.0,512.2 150.4,512.9 150.8,513.4 151.2,511.0 151.6,512.9 152.0,511.9 152.4,514.0 152.8,517.1 153.2,515.2 153.6,513.6 154.0,510.8 154.4,516.7 154.8,514.1 155.2,516.4 155.6,513.1 156.0,515.6 156.4,515.3 156.8,519.1 157.2,517.9 157.6,516.3 158.0,516.7 158.4,519.1 158.8,515.0 159.2,514.4 159.6,517.6 160.0,513.4 160.4,521.0 160.8,518.2 161.2,512.3 161.6,514.9 162.0,516.9 162.4,521.4 162.8,514.0 163.2,515.3 163.6,518.1 164.0,515.2 164.4,514.2 164.8,514.6 165.2,513.1 165.6,514.6 166.0,516.2 166.4,516.4 166.8,516.8 167.2,519.0 167.6,517.4 168.0,519.3 168.4,520.5 168.8,515.6 169.2,516.7 169.6,518.5 170.0,515.9 170.4,520.5 170.8,520.1 171.2,517.1 171.6,519.4 172.0,521.6 172.4,519.3 172.8,524.1 173.2,518.9 173.6,518.0 174.0,521.0 174.4,518.1 174.8,521.5 175.2,515.1 175.6,520.1 176.0,524.2 176.4,518.6 176.8,516.0 177.2,521.0 177.6,515.2 178.0,520.7 178.4,521.0 178.8,517.5 179.2,516.8 179.6,516.4 180.0,520.0 180.4,516.6 180.8,520.1 181.2,516.6 181.6,521.7 182.0,516.3 182.4,517.9 182.8,519.4 183.2,520.8 183.6,521.7 184.0,521.6 184.4,518.2 184.8,521.3 185.2,518.2 185.6,519.3 186.0,519.7 186.4,515.5 186.8,515.6 187.2,519.8 187.6,520.8 188.0,520.4 188.4,520.8 188.8,516.0 189.2,518.7 189.6,519.8 190.0,521.3 190.4,519.8 190.8,521.8 191.2,518.9 191.6,522.7 192.0,521.1 192.4,520.3 192.8,521.3 193.2,519.0 193.6,520.3 194.0,520.2 194.4,519.4 194.8,522.5 195.2,521.0 195.6,521.5 196.0,521.4 196.4,522.0 196.8,524.1 197.2,522.9 197.6,518.9 198.0,522.8 198.4,521.4 198.8,520.4 199.2,522.7 199.6,521.6 200.0,520.6 200.4,519.1 200.8,521.6 201.2,518.5 201.6,517.4 202.0,520.5 202.4,524.1 202.8,520.2 203.2,520.8 203.6,517.3 204.0,519.3 204.4,520.8 204.8,519.5 205.2,514.0 205.6,521.0 206.0,519.3 206.4,521.9 206.8,519.4 207.2,524.5 207.6,522.3 208.0,522.3 208.4,525.9 208.8,523.9 209.2,522.1 209.6,521.6 210.0,518.8 210.4,523.5 210.8,521.5 211.2,519.8 211.6,521.8 212.0,519.8 212.4,518.9 212.8,519.9 213.2,523.5 213.6,519.4 214.0,526.3 214.4,521.3 214.8,522.9 215.2,526.7 215.6,524.7 216.0,522.5 216.4,524.5 216.8,522.0 217.2,519.9 217.6,523.3 218.0,524.9 218.4,526.1 218.8,520.5 219.2,525.6 219.6,523.2 220.0,520.8 220.4,520.1 220.8,518.1 221.2,523.1 221.6,523.6 222.0,523.6 222.4,524.4 222.8,522.4 223.2,524.9 223.6,523.5 224.0,524.4 224.4,524.6 224.8,524.0 225.2,526.3 225.6,522.1 226.0,523.8 226.4,524.6 226.8,529.3 227.2,526.5 227.6,529.1 228.0,524.1 228.4,524.4 228.8,524.3 229.2,526.1 229.6,525.2 230.0,526.3 230.4,522.5 230.8,521.8 231.2,527.9 231.6,527.2 232.0,529.5 232.4,525.1 232.8,522.8 233.2,522.3 233.6,523.7 234.0,526.0 234.4,523.6 234.8,526.1 235.2,525.0 235.6,523.8 236.0,525.3 236.4,523.1 236.8,521.2 237.2,523.7 237.6,521.5 238.0,523.3 238.4,521.8 238.8,525.5 239.2,526.1 239.6,523.8 240.0,526.7 240.4,524.5 240.8,527.3 241.2,527.6 241.6,522.8 242.0,528.9 242.4,523.3 242.8,527.7 243.2,526.3 243.6,523.2 244.0,528.1 244.4,529.9 244.8,526.6 245.2,527.0 245.6,527.4 246.0,530.1 246.4,527.1 246.8,523.4 247.2,526.9 247.6,529.7 248.0,527.3 248.4,528.6 248.8,527.1 249.2,527.9 249.6,529.0 250.0,525.1 250.4,528.4 250.8,525.3 251.2,526.7 251.6,528.3 252.0,525.7 252.4,530.0 252.8,528.7 253.2,532.0" fill="none" stroke="#fa0505" stroke-width="2.5" stroke-linejoin="round" stroke-linecap="round"/>
<polyline points="13.5,551.5 13.9,547.7 14.3,545.6 14.7,546.0 15.1,545.3 15.5,545.9 15.9,547.2 16.3,545.4 16.7,548.3 17.1,545.0 17.5,545.6 17.9,548.6 18.3,548.6 18.7,549.0 19.1,550.0 19.5,548.6 19.9,547.9 20.3,547.9 20.7,546.7 21.1,550.6 21.5,546.0 21.9,551.0 22.3,543.5 22.7,549.8 23.1,550.6 23.5,544.8 23.9,549.4 24.3,549.0 24.7,544.0 25.1,547.5 25.5,547.5 25.9,548.0 26.3,545.9 26.7,550.6 27.1,546.2 27.5,552.5 27.9,548.7 28.3,546.6 28.7,547.3 29.1,548.1 29.5,548.3 29.9,552.1 30.3,548.6 30.7,547.6 31.1,549.4 31.5,549.6 31.9,552.1 32.3,548.3 32.7,547.6 33.1,547.1 33.5,547.8 33.9,548.5 34.3,546.8 34.7,552.1 35.1,548.5 35.5,547.3 35.9,548.3 36.3,548.1 36.7,549.7 37.1,546.7 37.5,546.8 37.9,545.6 38.3,552.7 38.7,549.4 39.1,546.1 39.5,547.8 39.9,547.3 40.3,548.3 40.7,546.7 41.1,549.4 41.5,548.4 41.9,546.4 42.3,546.6 42.7,550.2 43.1,549.8 43.5,548.5 43.9,546.2 44.3,550.2 44.7,547.9 45.1,547.3 45.5,548.2 45.9,549.1 46.3,547.5 46.7,549.8 47.1,547.5 47.5,546.4 47.9,545.7 48.3,547.0 48.7,547.8 49.1,550.2 49.5,550.5 49.9,548.0 50.3,547.7 50.7,544.0 51.1,551.9 51.5,544.7 51.9,548.6 52.3,550.4 52.7,550.7 53.1,547.5 53.5,550.8 53.9,547.8 54.3,547.9 54.7,553.3 55.1,549.6 55.5,543.1 55.9,549.0 56.3,548.0 56.7,547.6 57.1,547.8 57.5,545.5 57.9,545.4 58.3,546.6 58.7,547.8 59.1,549.5 59.5,546.9 59.9,546.5 60.3,548.0 60.7,549.1 61.1,550.6 61.5,548.4 61.9,548.0 62.3,546.9 62.7,548.6 63.1,545.3 63.5,547.3 63.9,546.1 64.3,549.6 64.7,549.0 65.1,548.1 65.5,547.6 65.9,544.4 66.3,547.8 66.7,549.9 67.1,552.0" fill="none" stroke="#0c0cb4" stroke-width="2.5" stroke-linejoin="round" stroke-linecap="round"/>
<polyline points="67.1,552.0 67.1,575.0 67.6,596.6 68.4,590.0 69.5,575.0 70.5,565.0 70.5,565.5" fill="none" stroke="#0c0cb4" stroke-width="2.1" stroke-linejoin="round" stroke-linecap="round"/>
<polyline points="70.5,565.5 70.9,561.7 71.3,561.1 71.7,558.5 72.1,560.2 72.5,557.9 72.9,556.1 73.3,554.0 73.7,552.5 74.1,554.0 74.5,553.3 74.9,552.4 75.3,550.4 75.7,552.4 76.1,552.2 76.5,552.1 76.9,550.2 77.3,553.4 77.7,550.4 78.1,550.6 78.5,552.6 78.9,548.9 79.3,545.1 79.7,547.9 80.1,551.1 80.5,552.2 80.9,545.2 81.3,546.7 81.7,550.0 82.1,547.5 82.5,549.7 82.9,547.6 83.3,545.7 83.7,549.6 84.1,551.1 84.5,547.3 84.9,548.9 85.3,549.9 85.7,549.9 86.1,547.7 86.5,554.2 86.9,549.5 87.3,549.7 87.7,545.9 88.1,547.9 88.5,551.8 88.9,548.6 89.3,544.6 89.7,550.1 90.1,546.6 90.5,549.0 90.9,550.9 91.3,551.6 91.7,548.0 92.1,548.8 92.5,547.6 92.9,547.8 93.3,547.4 93.7,549.2 94.1,544.9 94.5,544.0 94.9,549.4 95.3,552.4 95.7,548.8 96.1,549.1 96.5,548.4 96.9,550.9 97.3,545.4 97.7,550.8 98.1,550.1 98.5,549.2 98.9,550.0 99.3,550.7 99.7,549.4 100.1,550.9 100.5,548.8 100.9,548.4 101.3,548.3 101.7,551.9 102.1,550.3 102.5,550.8 102.9,550.9 103.3,549.2 103.7,548.6 104.1,549.5 104.5,549.3 104.9,546.4 105.3,545.7 105.7,551.3 106.1,546.9 106.5,548.9 106.9,548.3 107.3,550.4 107.7,548.0 108.1,548.4 108.5,547.2 108.9,549.4 109.3,547.7 109.7,549.4 110.1,550.0 110.5,546.2 110.9,550.2 111.3,548.6 111.7,550.0 112.1,552.7 112.5,547.9 112.9,548.9 113.3,551.6 113.7,548.3 114.1,549.3 114.5,545.8 114.9,550.4 115.3,549.9 115.7,548.5 116.1,549.0 116.5,550.2 116.9,547.1 117.3,546.0 117.7,553.3 118.1,548.4 118.5,552.0 118.9,547.0 119.3,545.6 119.7,551.0 120.1,548.1 120.5,548.4 120.9,549.7 121.3,546.7 121.7,552.4 122.1,545.7 122.5,549.4 122.9,544.9 123.3,547.8 123.7,548.8 124.1,548.9 124.5,549.3 124.9,552.0 125.3,551.6 125.7,551.9 126.1,550.7 126.5,552.1 126.9,547.0 127.3,552.1 127.7,549.7 128.1,546.5 128.5,547.5 128.9,548.1 129.3,547.0 129.7,548.2 130.1,548.6 130.5,547.6 130.9,548.7 131.3,547.1 131.7,549.9 132.1,548.9 132.5,544.6 132.9,548.2 133.3,548.2 133.7,549.9 134.1,547.4 134.5,547.8 134.9,550.2 135.3,552.2 135.7,549.7 136.1,547.6 136.5,550.5 136.9,547.8 137.3,549.6 137.7,545.4 138.1,546.6 138.5,547.8 138.9,551.3 139.3,551.2 139.7,545.8 140.1,548.6 140.5,548.0 140.9,546.6 141.3,547.6 141.7,547.5 142.1,546.2 142.5,550.3 142.9,545.3 143.3,546.1 143.7,547.0 144.1,548.1 144.5,550.2 144.9,548.9 145.3,545.0 145.7,549.1 146.1,549.2 146.5,547.4 146.9,548.8 147.3,547.6 147.7,548.2 148.1,546.8 148.5,547.1 148.9,549.4 149.3,545.5 149.7,550.5 150.1,548.6 150.5,548.0 150.9,549.0 151.3,546.4 151.7,547.4 152.1,550.0 152.5,547.3 152.9,549.7 153.3,549.3 153.7,546.4 154.1,544.5 154.5,546.2 154.9,550.3 155.3,549.7 155.7,547.4 156.1,549.5 156.5,547.1 156.9,547.1 157.3,547.5 157.7,548.8 158.1,550.6 158.5,552.3 158.9,546.1 159.3,545.3 159.7,551.0 160.1,546.8 160.5,552.0 160.9,552.3 161.3,550.6 161.7,550.8 162.1,551.8 162.5,553.7 162.9,551.4 163.3,552.1 163.7,550.3 164.1,550.5 164.5,550.8 164.9,548.4 165.3,548.6 165.7,547.8 166.1,550.9 166.5,552.1 166.9,549.9 167.3,552.3 167.7,550.4 168.1,549.7 168.5,549.0 168.9,548.6 169.3,550.7 169.7,551.1 170.1,554.0 170.5,548.2 170.9,549.9 171.3,549.6 171.7,547.3 172.1,547.6 172.5,548.8 172.9,549.9 173.3,549.4 173.7,545.8 174.1,548.4 174.5,550.5 174.9,547.7 175.3,551.2 175.7,548.5 176.1,543.9 176.5,549.9 176.9,547.5 177.3,549.9 177.7,551.6 178.1,548.7 178.5,548.2 178.9,549.7 179.3,550.7 179.7,546.9 180.1,549.3 180.5,546.7 180.9,549.3 181.3,551.8 181.7,547.7 182.1,550.7 182.5,546.7 182.9,549.4 183.3,550.4 183.7,550.2 184.1,548.5 184.5,544.8 184.9,548.1 185.3,549.0 185.7,547.2 186.1,549.5 186.5,550.8 186.9,547.3 187.3,551.2 187.7,547.0 188.1,548.5 188.5,548.7 188.9,548.1 189.3,551.1 189.7,546.7 190.1,550.7 190.5,550.3 190.9,545.6 191.3,549.9 191.7,552.3 192.1,549.4 192.5,546.5 192.9,547.7 193.3,549.8 193.7,548.5 194.1,550.1 194.5,547.0 194.9,548.7 195.3,550.8 195.7,546.5 196.1,547.7 196.5,547.1 196.9,552.4 197.3,549.9 197.7,554.7 198.1,552.5 198.5,548.8 198.9,550.2 199.3,548.5 199.7,552.7 200.1,550.7 200.5,551.5 200.9,548.5 201.3,547.9 201.7,549.1 202.1,549.8 202.5,551.7 202.9,549.7 203.3,548.8 203.7,546.6 204.1,545.7 204.5,547.0 204.9,546.3 205.3,546.4 205.7,549.9 206.1,547.6 206.5,547.7 206.9,545.8 207.3,545.8 207.7,549.3 208.1,547.6 208.5,545.4 208.9,547.9 209.3,546.2 209.7,547.4 210.1,546.4 210.5,545.7 210.9,548.7 211.3,543.4 211.7,544.9 212.1,552.0 212.5,548.6 212.9,548.9 213.3,549.8 213.7,549.9 214.1,550.7 214.5,551.3 214.9,549.3 215.3,549.6 215.7,548.3 216.1,550.9 216.5,548.9 216.9,549.0 217.3,548.3 217.7,550.2 218.1,551.1 218.5,549.4 218.9,552.5 219.3,554.8 219.7,550.5 220.1,546.1 220.5,550.7 220.9,548.3 221.3,547.1 221.7,547.4 222.1,552.6 222.5,550.3 222.9,549.5 223.3,548.7 223.7,547.8 224.1,547.5 224.5,551.8 224.9,553.2 225.3,551.3 225.7,554.6 226.1,551.4 226.5,550.4 226.9,550.1 227.3,550.0 227.7,550.5 228.1,552.0 228.5,548.4 228.9,548.4 229.3,547.7 229.7,549.0 230.1,548.2 230.5,550.0 230.9,549.0 231.3,549.4 231.7,544.9 232.1,549.9 232.5,546.5 232.9,547.9 233.3,550.4 233.7,543.5 234.1,548.2 234.5,552.6 234.9,548.9 235.3,547.1 235.7,544.9 236.1,543.5 236.5,549.6 236.9,546.8 237.3,549.1 237.7,547.9 238.1,546.3 238.5,548.9 238.9,547.3 239.3,550.5 239.7,547.1 240.1,545.0 240.5,548.9 240.9,547.5 241.3,548.8 241.7,550.0 242.1,547.0 242.5,549.8 242.9,553.6 243.3,550.1 243.7,546.4 244.1,553.6 244.5,553.1 244.9,545.3 245.3,547.9 245.7,548.4 246.1,546.3 246.5,546.1 246.9,545.3 247.3,544.4 247.7,548.1 248.1,546.5 248.5,549.0 248.9,548.5 249.3,546.1 249.7,550.0 250.1,547.8 250.5,547.8 250.9,548.9 251.3,548.7 251.7,545.6 252.1,548.0 252.5,547.9 252.9,546.7 253.3,545.8" fill="none" stroke="#0c0cb4" stroke-width="2.5" stroke-linejoin="round" stroke-linecap="round"/>
<polyline points="9.5,761.5 9.9,760.8 10.3,759.2 10.7,761.7 11.1,761.9 11.5,762.5 11.9,760.1 12.3,759.1 12.7,763.2 13.1,760.0 13.5,760.6 13.9,756.7 14.3,760.4 14.7,758.5 15.1,760.9 15.5,762.0 15.9,753.3 16.3,759.6 16.7,759.1 17.1,759.5 17.5,760.4 17.9,759.1 18.3,757.9 18.7,756.6 19.1,757.4 19.5,757.0 19.9,762.0 20.3,759.1 20.7,758.7 21.1,758.7 21.5,758.0 21.9,756.5 22.3,758.2 22.7,760.9 23.1,757.9 23.5,753.2 23.9,757.3 24.3,755.5 24.7,754.5 25.1,755.5 25.5,752.2 25.9,751.3 26.3,755.7 26.7,753.7 27.1,755.3 27.5,754.5 27.9,755.8 28.3,754.0 28.7,753.0 29.1,754.2 29.5,753.0 29.9,751.7 30.3,752.1 30.7,750.9 31.1,753.7 31.5,750.3 31.9,752.4 32.3,751.6 32.7,754.0 33.1,751.9 33.5,754.1 33.9,749.6 34.3,750.4 34.7,751.9 35.1,753.2 35.5,751.4 35.9,751.9 36.3,749.9 36.7,749.5 37.1,750.3 37.5,752.6 37.9,755.3 38.3,750.5 38.7,749.9 39.1,748.7 39.5,753.8 39.9,752.2 40.3,753.0 40.7,748.6 41.1,750.0 41.5,747.5 41.9,749.3 42.3,750.8 42.7,748.3 43.1,750.6 43.5,749.4 43.9,752.6 44.3,753.1 44.7,749.3 45.1,752.3 45.5,752.8 45.9,749.8 46.3,751.0 46.7,752.3 47.1,751.3 47.5,750.5 47.9,753.2 48.3,755.1 48.7,752.7 49.1,749.3 49.5,751.4 49.9,746.9 50.3,748.0 50.7,753.6 51.1,748.1 51.5,748.6 51.9,747.4 52.3,750.9 52.7,751.7 53.1,751.1 53.5,749.3 53.9,751.2 54.3,754.7 54.7,748.7 55.1,753.9 55.5,752.9 55.9,750.8 56.3,750.5 56.7,752.7 57.1,751.3 57.5,751.2 57.9,749.3 58.3,750.4 58.7,750.6 59.1,752.2 59.5,752.1 59.9,751.3 60.3,749.3 60.7,751.7 61.1,753.0 61.5,754.1 61.9,751.2" fill="none" stroke="#fa0505" stroke-width="2.5" stroke-linejoin="round" stroke-linecap="round"/>
<polyline points="61.9,751.2 61.9,752.0 62.4,744.5 62.9,737.0 63.4,729.5 63.9,723.8 64.4,718.5 64.9,713.3 65.4,708.0 65.9,704.5 66.4,701.4 66.9,698.2 67.4,695.1 67.9,692.0 68.4,689.2 68.9,687.8 69.4,686.5 69.9,685.1 70.4,683.7 70.5,683.9" fill="none" stroke="#fa0505" stroke-width="1.9" stroke-linejoin="round" stroke-linecap="round"/>
<polyline points="70.5,683.9 70.9,682.8 71.3,682.5 71.7,677.4 72.1,683.3 72.5,678.9 72.9,677.4 73.3,679.7 73.7,680.4 74.1,677.4 74.5,675.6 74.9,674.8 75.3,679.2 75.7,676.3 76.1,676.0 76.5,675.2 76.9,682.2 77.3,678.4 77.7,678.2 78.1,681.3 78.5,675.9 78.9,674.9 79.3,677.6 79.7,670.2 80.1,677.2 80.5,681.5 80.9,679.1 81.3,677.2 81.7,679.9 82.1,679.4 82.5,676.1 82.9,676.0 83.3,674.8 83.7,676.1 84.1,675.8 84.5,675.2 84.9,678.7 85.3,680.3 85.7,673.1 86.1,674.5 86.5,676.3 86.9,674.7 87.3,679.2 87.7,676.8 88.1,682.4 88.5,674.1 88.9,674.4 89.3,681.2 89.7,677.6 90.1,679.0 90.5,673.9 90.9,674.8 91.3,673.0 91.7,679.4 92.1,672.4 92.5,674.6 92.9,680.9 93.3,670.7 93.7,678.0 94.1,669.2 94.5,673.8 94.9,678.8 95.3,672.0 95.7,674.8 96.1,678.2 96.5,679.8 96.9,675.9 97.3,675.0 97.7,676.5 98.1,679.0 98.5,679.4 98.9,677.4 99.3,677.2 99.7,675.4 100.1,675.1 100.5,682.9 100.9,678.8 101.3,681.1 101.7,678.3 102.1,678.7 102.5,679.4 102.9,676.1 103.3,676.1 103.7,676.0 104.1,680.7 104.5,676.5 104.9,682.4 105.3,679.6 105.7,684.7 106.1,679.6 106.5,680.2 106.9,684.3 107.3,686.1 107.7,685.3 108.1,685.7 108.5,690.2 108.9,682.3 109.3,689.5 109.7,684.4 110.1,684.0 110.5,683.6 110.9,685.1 111.3,687.5 111.7,686.2 112.1,684.4 112.5,690.9 112.9,683.2 113.3,681.8 113.7,688.4 114.1,688.6 114.5,684.2 114.9,683.1 115.3,688.6 115.7,687.5 116.1,689.7 116.5,686.9 116.9,689.9 117.3,691.6 117.7,693.6 118.1,690.0 118.5,690.2 118.9,690.7 119.3,688.6 119.7,692.9 120.1,695.4 120.5,697.3 120.9,689.1 121.3,690.0 121.7,692.4 122.1,691.0 122.5,691.6 122.9,690.7 123.3,689.3 123.7,686.0 124.1,688.9 124.5,688.6 124.9,694.6 125.3,697.7 125.7,691.8 126.1,694.4 126.5,697.1 126.9,698.0 127.3,694.9 127.7,696.7 128.1,693.9 128.5,695.1 128.9,695.8 129.3,695.0 129.7,692.0 130.1,698.5 130.5,696.7 130.9,696.2 131.3,698.5 131.7,699.8 132.1,695.8 132.5,696.4 132.9,697.1 133.3,699.8 133.7,694.7 134.1,694.1 134.5,692.4 134.9,697.9 135.3,690.5 135.7,702.6 136.1,699.5 136.5,696.8 136.9,700.8 137.3,699.4 137.7,693.5 138.1,698.8 138.5,700.4 138.9,698.8 139.3,702.9 139.7,697.8 140.1,701.5 140.5,701.1 140.9,699.0 141.3,695.7 141.7,701.6 142.1,704.3 142.5,698.1 142.9,700.6 143.3,705.3 143.7,698.5 144.1,703.2 144.5,704.9 144.9,698.7 145.3,705.9 145.7,697.3 146.1,700.3 146.5,701.2 146.9,698.1 147.3,701.2 147.7,703.1 148.1,703.0 148.5,700.1 148.9,706.9 149.3,705.9 149.7,704.2 150.1,704.9 150.5,703.2 150.9,704.0 151.3,701.7 151.7,701.4 152.1,706.3 152.5,701.5 152.9,705.7 153.3,698.7 153.7,698.6 154.1,704.4 154.5,703.7 154.9,701.4 155.3,699.3 155.7,702.1 156.1,704.5 156.5,703.3 156.9,704.4 157.3,704.1 157.7,697.3 158.1,698.4 158.5,699.1 158.9,704.9 159.3,702.4 159.7,701.8 160.1,702.2 160.5,699.3 160.9,707.4 161.3,700.5 161.7,699.8 162.1,702.8 162.5,699.9 162.9,707.1 163.3,702.7 163.7,704.1 164.1,705.6 164.5,702.7 164.9,704.1 165.3,706.2 165.7,701.0 166.1,700.7 166.5,705.9 166.9,702.0 167.3,707.1 167.7,707.5 168.1,703.0 168.5,707.7 168.9,705.5 169.3,708.8 169.7,703.4 170.1,699.8 170.5,704.1 170.9,705.0 171.3,703.4 171.7,702.4 172.1,705.7 172.5,707.5 172.9,704.2 173.3,708.1 173.7,702.2 174.1,706.3 174.5,706.9 174.9,707.3 175.3,705.9 175.7,705.5 176.1,707.4 176.5,707.3 176.9,707.3 177.3,700.5 177.7,706.4 178.1,709.6 178.5,704.8 178.9,705.9 179.3,709.6 179.7,707.4 180.1,707.5 180.5,702.5 180.9,706.6 181.3,706.2 181.7,696.6 182.1,704.8 182.5,702.1 182.9,707.1 183.3,705.1 183.7,704.6 184.1,704.1 184.5,703.8 184.9,707.5 185.3,705.8 185.7,700.4 186.1,701.3 186.5,701.9 186.9,702.3 187.3,707.3 187.7,702.2 188.1,708.4 188.5,707.0 188.9,703.3 189.3,710.1 189.7,708.8 190.1,707.0 190.5,711.4 190.9,710.7 191.3,706.2 191.7,704.5 192.1,707.9 192.5,708.6 192.9,711.4 193.3,709.9 193.7,706.3 194.1,706.3 194.5,708.6 194.9,706.5 195.3,706.7 195.7,712.6 196.1,707.3 196.5,716.2 196.9,712.5 197.3,713.7 197.7,714.9 198.1,711.4 198.5,712.3 198.9,712.4 199.3,714.4 199.7,714.5 200.1,712.1 200.5,710.6 200.9,713.9 201.3,712.2 201.7,711.4 202.1,714.4 202.5,710.9 202.9,710.9 203.3,716.4 203.7,716.1 204.1,715.2 204.5,715.7 204.9,715.5 205.3,718.9 205.7,714.9 206.1,720.6 206.5,720.3 206.9,717.9 207.3,719.0 207.7,718.7 208.1,719.1 208.5,715.6 208.9,716.3 209.3,721.4 209.7,719.3 210.1,724.1 210.5,723.2 210.9,722.5 211.3,717.0 211.7,717.9 212.1,715.8 212.5,714.7 212.9,719.8 213.3,719.0 213.7,720.0 214.1,718.5 214.5,720.7 214.9,723.7 215.3,722.0 215.7,721.9 216.1,716.2 216.5,716.3 216.9,714.6 217.3,719.7 217.7,715.1 218.1,722.9 218.5,724.1 218.9,724.7 219.3,720.0 219.7,725.0 220.1,720.6 220.5,721.8 220.9,718.8 221.3,717.4 221.7,715.9 222.1,716.7 222.5,723.8 222.9,720.7 223.3,719.0 223.7,717.6 224.1,718.8 224.5,719.1 224.9,717.9 225.3,716.9 225.7,713.9 226.1,722.8 226.5,718.4 226.9,716.8 227.3,713.9 227.7,717.1 228.1,714.8 228.5,713.0 228.9,720.8 229.3,720.9 229.7,719.6 230.1,719.6 230.5,720.3 230.9,716.6 231.3,713.8 231.7,717.2 232.1,720.2 232.5,719.8 232.9,728.5 233.3,720.4 233.7,722.9 234.1,719.7 234.5,717.4 234.9,720.8 235.3,722.3 235.7,716.8 236.1,723.7 236.5,725.5 236.9,719.9 237.3,724.1 237.7,721.9 238.1,725.3 238.5,718.0 238.9,716.8 239.3,723.8 239.7,722.5 240.1,720.1 240.5,719.1 240.9,720.5 241.3,719.3 241.7,717.6 242.1,721.2 242.5,724.2 242.9,720.2 243.3,725.2 243.7,718.8 244.1,720.7 244.5,720.8 244.9,721.3 245.3,721.7 245.7,725.2 246.1,718.3 246.5,726.2 246.9,723.2 247.3,723.6 247.7,721.8 248.1,723.9 248.5,721.7 248.9,724.7 249.3,721.2 249.7,719.5 250.1,725.0 250.5,721.9 250.9,726.7 251.3,714.8 251.7,721.0 252.1,724.0 252.5,720.6 252.9,721.9 253.3,725.9" fill="none" stroke="#fa0505" stroke-width="2.5" stroke-linejoin="round" stroke-linecap="round"/>
<polyline points="9.5,751.1 9.9,754.4 10.3,754.1 10.7,753.6 11.1,751.7 11.5,757.6 11.9,757.1 12.3,751.9 12.7,753.8 13.1,754.9 13.5,752.8 13.9,755.0 14.3,755.6 14.7,751.2 15.1,752.6 15.5,754.8 15.9,753.4 16.3,753.3 16.7,752.1 17.1,755.7 17.5,753.7 17.9,751.6 18.3,754.6 18.7,756.0 19.1,754.2 19.5,754.2 19.9,755.3 20.3,755.9 20.7,754.9 21.1,751.9 21.5,755.6 21.9,754.4 22.3,749.3 22.7,755.2 23.1,754.9 23.5,754.8 23.9,754.8 24.3,752.0 24.7,757.4 25.1,756.1 25.5,753.6 25.9,753.7 26.3,749.8 26.7,751.1 27.1,753.8 27.5,750.7 27.9,749.1 28.3,754.0 28.7,754.7 29.1,754.0 29.5,757.0 29.9,756.3 30.3,757.4 30.7,748.9 31.1,752.6 31.5,755.5 31.9,749.0 32.3,751.4 32.7,756.5 33.1,753.9 33.5,753.9 33.9,751.4 34.3,749.3 34.7,751.5 35.1,745.8 35.5,752.6 35.9,752.7 36.3,754.6 36.7,751.3 37.1,754.1 37.5,755.4 37.9,754.3 38.3,754.2 38.7,752.8 39.1,753.7 39.5,754.0 39.9,755.4 40.3,753.5 40.7,751.3 41.1,754.5 41.5,750.8 41.9,753.7 42.3,754.6 42.7,751.3 43.1,758.6 43.5,757.6 43.9,755.7 44.3,753.1 44.7,751.3 45.1,753.7 45.5,754.8 45.9,753.3 46.3,753.4 46.7,755.8 47.1,757.8 47.5,754.2 47.9,754.1 48.3,755.3 48.7,750.2 49.1,751.1 49.5,753.3 49.9,753.4 50.3,755.1 50.7,751.1 51.1,752.6 51.5,754.3 51.9,756.6 52.3,754.5 52.7,753.3 53.1,752.9 53.5,757.9 53.9,753.2 54.3,753.4 54.7,755.5 55.1,751.8 55.5,753.0 55.9,753.6 56.3,755.1 56.7,754.7 57.1,753.2 57.5,753.5 57.9,755.5 58.3,753.3 58.7,754.0 59.1,752.8 59.5,759.3 59.9,752.4 60.3,756.3 60.7,756.1 61.1,753.5 61.5,752.6 61.9,758.0" fill="none" stroke="#0c0cb4" stroke-width="2.5" stroke-linejoin="round" stroke-linecap="round"/>
<polyline points="61.9,758.0 62.0,780.0 62.6,805.0 63.3,825.5 64.0,808.0 64.6,792.0 65.5,779.0 66.5,770.0 67.5,765.0 67.5,764.8" fill="none" stroke="#0c0cb4" stroke-width="2.1" stroke-linejoin="round" stroke-linecap="round"/>
<polyline points="67.5,764.8 67.9,763.7 68.3,764.1 68.7,763.9 69.1,761.6 69.5,761.4 69.9,762.0 70.3,759.7 70.7,762.3 71.1,759.3 71.5,761.4 71.9,757.8 72.3,759.5 72.7,758.6 73.1,759.9 73.5,757.8 73.9,759.2 74.3,759.2 74.7,758.0 75.1,759.3 75.5,759.8 75.9,756.5 76.3,757.5 76.7,758.3 77.1,756.5 77.5,757.7 77.9,757.1 78.3,760.3 78.7,758.3 79.1,758.3 79.5,755.4 79.9,753.1 80.3,753.3 80.7,758.1 81.1,754.9 81.5,754.1 81.9,753.1 82.3,756.2 82.7,755.3 83.1,753.6 83.5,750.9 83.9,753.2 84.3,750.9 84.7,754.2 85.1,753.8 85.5,750.9 85.9,755.7 86.3,752.3 86.7,752.2 87.1,753.6 87.5,753.8 87.9,753.8 88.3,757.1 88.7,757.2 89.1,753.7 89.5,756.8 89.9,753.4 90.3,756.3 90.7,754.3 91.1,753.2 91.5,756.0 91.9,755.4 92.3,752.6 92.7,755.6 93.1,755.1 93.5,754.0 93.9,753.7 94.3,755.7 94.7,756.1 95.1,756.8 95.5,754.4 95.9,751.9 96.3,751.1 96.7,751.9 97.1,753.2 97.5,753.0 97.9,754.0 98.3,751.7 98.7,753.7 99.1,754.3 99.5,749.4 99.9,754.7 100.3,752.1 100.7,749.0 101.1,750.6 101.5,751.1 101.9,752.6 102.3,752.7 102.7,754.7 103.1,756.5 103.5,752.0 103.9,751.8 104.3,753.5 104.7,755.5 105.1,755.7 105.5,755.1 105.9,752.1 106.3,753.9 106.7,751.2 107.1,756.5 107.5,751.2 107.9,755.3 108.3,756.5 108.7,752.7 109.1,754.1 109.5,752.9 109.9,753.8 110.3,754.7 110.7,752.7 111.1,752.3 111.5,755.2 111.9,749.7 112.3,749.6 112.7,752.2 113.1,753.9 113.5,754.4 113.9,752.1 114.3,753.7 114.7,754.0 115.1,757.3 115.5,754.7 115.9,758.9 116.3,754.8 116.7,753.6 117.1,751.7 117.5,752.6 117.9,750.7 118.3,756.3 118.7,757.8 119.1,752.1 119.5,755.5 119.9,755.6 120.3,753.9 120.7,749.9 121.1,756.8 121.5,752.0 121.9,752.3 122.3,751.1 122.7,749.9 123.1,750.2 123.5,752.8 123.9,750.0 124.3,751.5 124.7,750.3 125.1,752.4 125.5,755.2 125.9,755.5 126.3,752.5 126.7,754.6 127.1,754.1 127.5,755.3 127.9,754.3 128.3,753.5 128.7,753.9 129.1,753.1 129.5,752.1 129.9,757.4 130.3,751.6 130.7,754.2 131.1,753.8 131.5,755.9 131.9,756.4 132.3,751.9 132.7,753.9 133.1,754.2 133.5,752.6 133.9,757.0 134.3,753.3 134.7,753.0 135.1,749.6 135.5,756.2 135.9,750.1 136.3,752.0 136.7,754.4 137.1,755.7 137.5,755.1 137.9,751.7 138.3,752.2 138.7,751.9 139.1,757.7 139.5,756.5 139.9,752.0 140.3,755.4 140.7,753.0 141.1,754.1 141.5,753.7 141.9,753.8 142.3,755.8 142.7,752.1 143.1,751.2 143.5,759.1 143.9,752.1 144.3,753.6 144.7,754.2 145.1,754.0 145.5,755.3 145.9,750.5 146.3,751.3 146.7,755.8 147.1,753.4 147.5,750.3 147.9,754.2 148.3,753.8 148.7,752.5 149.1,752.2 149.5,753.0 149.9,753.5 150.3,755.5 150.7,754.3 151.1,754.0 151.5,754.1 151.9,756.0 152.3,751.9 152.7,753.5 153.1,749.7 153.5,750.6 153.9,758.3 154.3,756.4 154.7,756.8 155.1,753.9 155.5,754.8 155.9,754.3 156.3,757.1 156.7,752.6 157.1,754.1 157.5,755.9 157.9,755.4 158.3,755.1 158.7,754.6 159.1,758.5 159.5,754.7 159.9,753.4 160.3,753.3 160.7,757.2 161.1,756.0 161.5,753.3 161.9,754.2 162.3,757.0 162.7,755.0 163.1,757.4 163.5,756.2 163.9,753.0 164.3,759.5 164.7,754.8 165.1,754.1 165.5,752.6 165.9,752.3 166.3,751.1 166.7,750.6 167.1,754.5 167.5,753.4 167.9,753.0 168.3,757.4 168.7,754.2 169.1,751.5 169.5,752.8 169.9,755.3 170.3,756.2 170.7,754.9 171.1,750.6 171.5,753.4 171.9,755.1 172.3,754.0 172.7,755.7 173.1,751.8 173.5,751.6 173.9,755.3 174.3,752.0 174.7,754.7 175.1,757.6 175.5,751.4 175.9,753.2 176.3,754.9 176.7,752.2 177.1,755.2 177.5,752.4 177.9,753.8 178.3,752.7 178.7,755.1 179.1,755.5 179.5,754.7 179.9,753.8 180.3,753.4 180.7,751.3 181.1,754.0 181.5,754.9 181.9,751.3 182.3,756.2 182.7,753.8 183.1,755.5 183.5,751.2 183.9,753.0 184.3,755.8 184.7,754.1 185.1,750.4 185.5,751.2 185.9,750.5 186.3,754.9 186.7,754.9 187.1,751.0 187.5,753.3 187.9,753.2 188.3,755.2 188.7,752.6 189.1,753.3 189.5,749.6 189.9,757.0 190.3,756.8 190.7,752.9 191.1,758.0 191.5,749.2 191.9,752.7 192.3,758.5 192.7,755.4 193.1,752.6 193.5,754.4 193.9,748.4 194.3,755.0 194.7,756.1 195.1,756.9 195.5,755.3 195.9,754.1 196.3,752.3 196.7,753.3 197.1,754.8 197.5,755.2 197.9,754.0 198.3,750.5 198.7,753.7 199.1,753.8 199.5,753.8 199.9,752.7 200.3,753.9 200.7,757.5 201.1,756.5 201.5,755.6 201.9,754.1 202.3,756.8 202.7,754.9 203.1,751.4 203.5,751.8 203.9,750.9 204.3,751.0 204.7,751.4 205.1,753.2 205.5,754.1 205.9,755.6 206.3,753.9 206.7,758.1 207.1,757.2 207.5,749.1 207.9,751.2 208.3,753.4 208.7,752.6 209.1,754.0 209.5,754.7 209.9,754.5 210.3,754.7 210.7,755.0 211.1,754.2 211.5,754.3 211.9,753.7 212.3,752.5 212.7,750.9 213.1,749.6 213.5,751.3 213.9,752.5 214.3,749.4 214.7,752.8 215.1,749.7 215.5,753.1 215.9,752.3 216.3,750.8 216.7,752.5 217.1,752.7 217.5,752.1 217.9,756.9 218.3,755.8 218.7,751.7 219.1,751.4 219.5,752.0 219.9,752.1 220.3,754.5 220.7,752.3 221.1,755.7 221.5,752.9 221.9,751.6 222.3,757.9 222.7,758.3 223.1,750.8 223.5,752.2 223.9,755.6 224.3,757.0 224.7,751.1 225.1,754.9 225.5,752.4 225.9,750.6 226.3,754.9 226.7,753.6 227.1,753.0 227.5,751.2 227.9,754.1 228.3,756.5 228.7,754.3 229.1,753.5 229.5,753.9 229.9,753.7 230.3,754.9 230.7,751.4 231.1,755.3 231.5,756.4 231.9,754.3 232.3,756.7 232.7,752.1 233.1,752.9 233.5,751.9 233.9,756.9 234.3,753.2 234.7,750.9 235.1,753.7 235.5,751.9 235.9,755.9 236.3,751.7 236.7,754.5 237.1,753.0 237.5,755.9 237.9,751.6 238.3,753.2 238.7,754.8 239.1,747.7 239.5,751.5 239.9,753.2 240.3,753.7 240.7,750.3 241.1,754.5 241.5,752.6 241.9,755.7 242.3,756.1 242.7,756.4 243.1,752.5 243.5,752.6 243.9,753.9 244.3,753.3 244.7,756.3 245.1,756.2 245.5,754.4 245.9,753.1 246.3,759.4 246.7,758.1 247.1,755.6 247.5,757.0 247.9,754.2 248.3,753.8 248.7,754.7 249.1,755.2 249.5,751.6 249.9,754.2 250.3,756.7 250.7,752.8 251.1,755.9 251.5,753.5 251.9,752.8 252.3,754.1 252.7,755.8 253.1,754.6 253.5,754.5" fill="none" stroke="#0c0cb4" stroke-width="2.5" stroke-linejoin="round" stroke-linecap="round"/>
<path d="M203.8,823.3 L251.6,823.3 L251.6,793.7" fill="none" stroke="#000" stroke-width="2.2"/>
<text transform="translate(272.7 274.6) scale(0.96 1)" font-size="36.0" text-anchor="start" fill="#000" font-family="Liberation Sans, sans-serif" font-weight="bold">D</text>
<text transform="translate(307.9 278.6)" font-size="22.6" text-anchor="start" fill="#000" font-family="Liberation Sans, sans-serif" font-weight="bold">NMDAR</text>
<path d="M413.2,474.7 L413.2,464.5 M396.7,464.5 L430.7,464.5" stroke="#000" stroke-width="2.6" fill="none" stroke-linecap="round"/>
<path d="M519.7,416.4 L519.7,388.4 M503.0,388.4 L537.6,388.4" stroke="#808080" stroke-width="2.6" fill="none" stroke-linecap="round"/>
<path d="M626.4,348.2 L626.4,324.2 M609.6,324.2 L644.2,324.2" stroke="#000" stroke-width="2.6" fill="none" stroke-linecap="round"/>
<path d="M377.7,505.9 L377.7,474.7 L448.6,474.7 L448.6,505.9" fill="#fff" stroke="#000" stroke-width="2.6" stroke-linejoin="miter"/>
<rect x="482.6" y="416.4" width="73.9" height="89.5" fill="#808080" rx="0.8"/>
<rect x="589.5" y="348.2" width="73.7" height="157.7" fill="#000" rx="0.8"/>
<g stroke="#000" stroke-width="2.6" fill="none">
<path d="M359.7,291.5 L359.7,505.9"/>
<path d="M353.7,505.9 L359.7,505.9"/>
<path d="M353.7,435.1 L359.7,435.1"/>
<path d="M353.7,364.0 L359.7,364.0"/>
<path d="M353.7,292.8 L359.7,292.8"/>
<path d="M353.7,505.9 L679.9,505.9"/>
</g>
<text transform="translate(351.09999999999997 513.2)" font-size="20.3" text-anchor="end" fill="#000" font-family="Liberation Sans, sans-serif" font-weight="bold">0</text>
<text transform="translate(351.09999999999997 442.4)" font-size="20.3" text-anchor="end" fill="#000" font-family="Liberation Sans, sans-serif" font-weight="bold">4</text>
<text transform="translate(351.09999999999997 371.3)" font-size="20.3" text-anchor="end" fill="#000" font-family="Liberation Sans, sans-serif" font-weight="bold">8</text>
<text transform="translate(351.09999999999997 300.1)" font-size="20.3" text-anchor="end" fill="#000" font-family="Liberation Sans, sans-serif" font-weight="bold">12</text>
<path d="M414,291.3 L414,278.0 L626.2,278.0 L626.2,291.3" stroke="#000" stroke-width="1.9" fill="none"/>
<text transform="translate(521 287.2)" font-size="41.4" text-anchor="middle" fill="#000" font-family="Liberation Sans, sans-serif" font-weight="bold">*</text>
<text transform="translate(412.9 541.8)" font-size="22.7" text-anchor="middle" fill="#000" font-family="Liberation Sans, sans-serif" font-weight="bold">class 3</text>
<text transform="translate(521.3 541.8)" font-size="22.7" text-anchor="middle" fill="#000" font-family="Liberation Sans, sans-serif" font-weight="bold">class 4</text>
<text transform="translate(629.4 541.8)" font-size="22.7" text-anchor="middle" fill="#000" font-family="Liberation Sans, sans-serif" font-weight="bold">class 5</text>
<text transform="translate(312.4 397.3) scale(1.045 1) rotate(-90)" font-size="26.0" text-anchor="middle" fill="#000" font-family="Liberation Sans, sans-serif" font-weight="bold">Amplitude (pA)</text>
<text transform="translate(272.9 567.9) scale(0.955 1)" font-size="35.2" text-anchor="start" fill="#000" font-family="Liberation Sans, sans-serif" font-weight="bold">E</text>
<text transform="translate(307.6 581.4) scale(1.01 1)" font-size="22.4" text-anchor="start" fill="#000" font-family="Liberation Sans, sans-serif" font-weight="bold">AMPAR</text>
<path d="M411.4,782.1 L411.4,775.4 M395.4,775.4 L428.7,775.4" stroke="#000" stroke-width="2.6" fill="none" stroke-linecap="round"/>
<path d="M516.4,782.2 L516.4,777.1 M500.3,777.1 L533.9,777.1" stroke="#808080" stroke-width="2.6" fill="none" stroke-linecap="round"/>
<path d="M621.6,678.0 L621.6,625.9 M605.5,625.9 L639.4,625.9" stroke="#000" stroke-width="2.6" fill="none" stroke-linecap="round"/>
<path d="M376.2,814.3 L376.2,782.1 L445.9,782.1 L445.9,814.3" fill="#fff" stroke="#000" stroke-width="2.6" stroke-linejoin="miter"/>
<rect x="479.9" y="782.2" width="73.0" height="32.1" fill="#808080" rx="0.8"/>
<rect x="585.4" y="678.0" width="72.6" height="136.3" fill="#000" rx="0.8"/>
<g stroke="#000" stroke-width="2.6" fill="none">
<path d="M358.9,602.1 L358.9,814.3"/>
<path d="M352.9,814.3 L358.9,814.3"/>
<path d="M352.9,744.0 L358.9,744.0"/>
<path d="M352.9,673.7 L358.9,673.7"/>
<path d="M352.9,603.4 L358.9,603.4"/>
<path d="M352.9,814.3 L674.0,814.3"/>
</g>
<text transform="translate(350.29999999999995 821.6)" font-size="20.3" text-anchor="end" fill="#000" font-family="Liberation Sans, sans-serif" font-weight="bold">0</text>
<text transform="translate(350.29999999999995 751.3)" font-size="20.3" text-anchor="end" fill="#000" font-family="Liberation Sans, sans-serif" font-weight="bold">10</text>
<text transform="translate(350.29999999999995 681.0)" font-size="20.3" text-anchor="end" fill="#000" font-family="Liberation Sans, sans-serif" font-weight="bold">20</text>
<text transform="translate(350.29999999999995 610.7)" font-size="20.3" text-anchor="end" fill="#000" font-family="Liberation Sans, sans-serif" font-weight="bold">30</text>
<path d="M408,593.3 L408,580.3 L621.9,580.3 L621.9,593.3" stroke="#000" stroke-width="1.9" fill="none"/>
<path d="M514.8,618.3 L514.8,605.4 L621.9,605.4 L621.9,618.3" stroke="#000" stroke-width="1.9" fill="none"/>
<text transform="translate(515.6 589.8)" font-size="41.4" text-anchor="middle" fill="#000" font-family="Liberation Sans, sans-serif" font-weight="bold">*</text>
<text transform="translate(568.2 614.8)" font-size="41.4" text-anchor="middle" fill="#000" font-family="Liberation Sans, sans-serif" font-weight="bold">*</text>
<text transform="translate(412.2 849.3)" font-size="22.7" text-anchor="middle" fill="#000" font-family="Liberation Sans, sans-serif" font-weight="bold">class 3</text>
<text transform="translate(518.3 849.3)" font-size="22.7" text-anchor="middle" fill="#000" font-family="Liberation Sans, sans-serif" font-weight="bold">class 4</text>
<text transform="translate(623.4 849.3)" font-size="22.7" text-anchor="middle" fill="#000" font-family="Liberation Sans, sans-serif" font-weight="bold">class 5</text>
<text transform="translate(312.4 706.6) scale(1.045 1) rotate(-90)" font-size="26.0" text-anchor="middle" fill="#000" font-family="Liberation Sans, sans-serif" font-weight="bold">Amplitude (pA)</text>
</svg>
</body></html>
